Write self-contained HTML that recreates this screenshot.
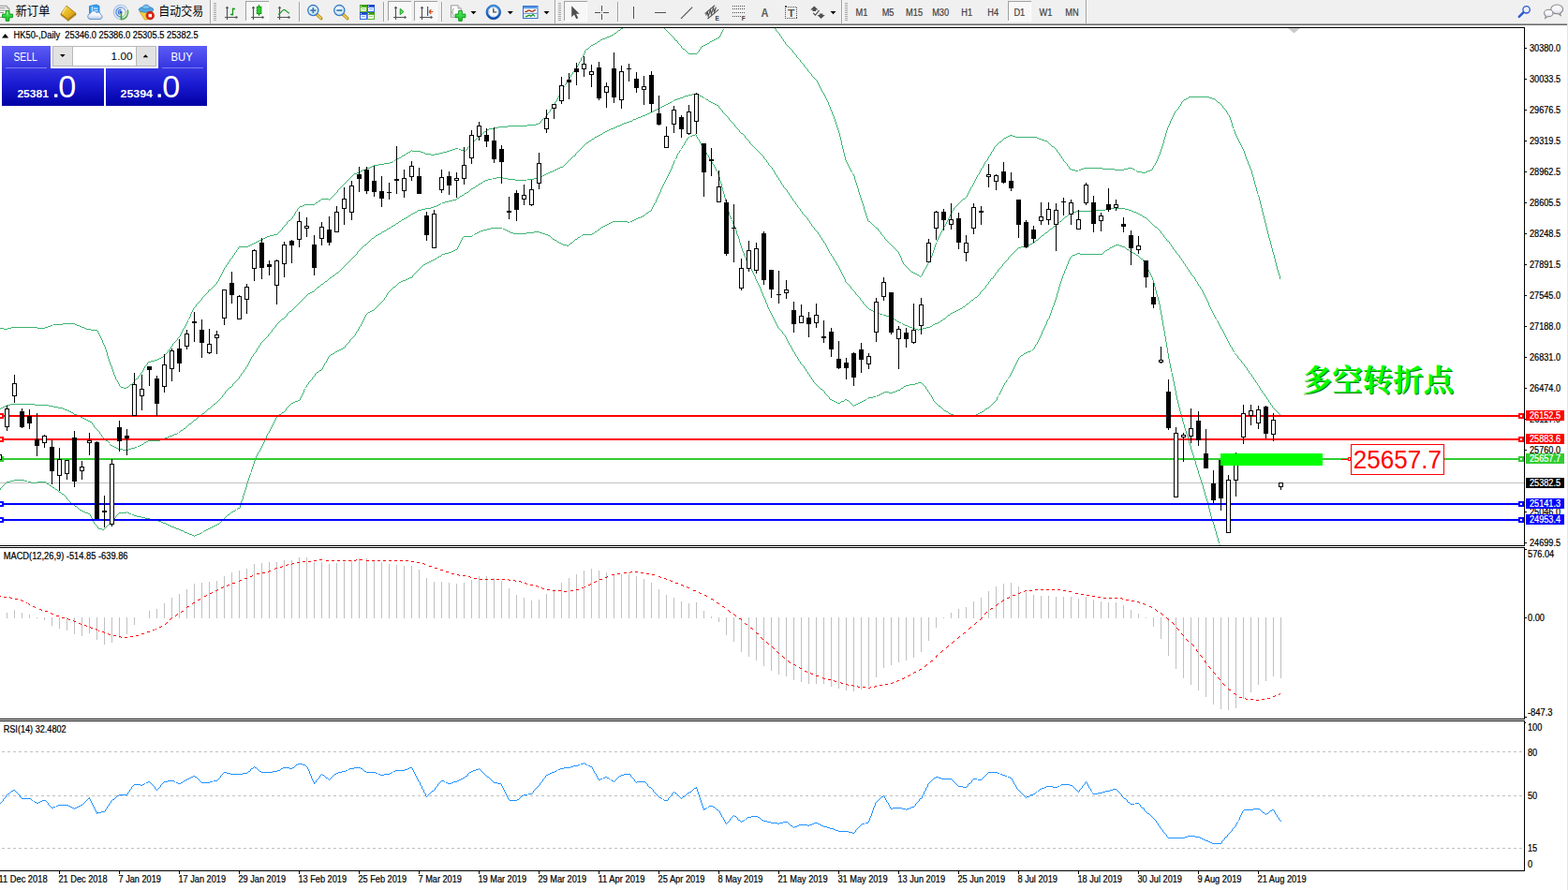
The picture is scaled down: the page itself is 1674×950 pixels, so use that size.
<!DOCTYPE html>
<html><head><meta charset="utf-8"><title>HK50 Daily</title>
<style>
html,body{margin:0;padding:0;background:#fff;overflow:hidden}
body{width:1674px;height:950px;position:relative;font-family:"Liberation Sans",sans-serif}
svg{display:block}
</style></head><body>
<svg width="1674" height="950" viewBox="0 0 1674 950" style="position:absolute;left:0;top:0" font-family="Liberation Sans, sans-serif">
<defs><clipPath id="cm"><rect x="0" y="30" width="1627" height="552"/></clipPath><clipPath id="c2"><rect x="0" y="585" width="1627" height="182"/></clipPath><clipPath id="c3"><rect x="0" y="770" width="1627" height="159"/></clipPath><linearGradient id="gb" x1="0" y1="0" x2="0" y2="1"><stop offset="0" stop-color="#5a5af5"/><stop offset="0.35" stop-color="#3232dc"/><stop offset="1" stop-color="#0000a8"/></linearGradient></defs>
<g shape-rendering="crispEdges">
<rect x="0" y="29" width="1628" height="1" fill="#000"/>
<rect x="1627" y="29" width="1" height="554" fill="#000"/>
<rect x="0" y="582" width="1628" height="1" fill="#000"/>
<rect x="0" y="584" width="1628" height="1" fill="#000"/>
<rect x="1627" y="584" width="1" height="184" fill="#000"/>
<rect x="0" y="767" width="1628" height="1" fill="#000"/>
<rect x="0" y="769" width="1628" height="1" fill="#000"/>
<rect x="1627" y="769" width="1" height="161" fill="#000"/>
<rect x="0" y="929" width="1628" height="1" fill="#000"/>
<rect x="1673" y="27" width="1" height="923" fill="#e6e6e6"/>
</g>
<rect x="0" y="515" width="1627" height="1" fill="#c0c0c0" shape-rendering="crispEdges"/>
<g shape-rendering="crispEdges" fill="#3CB371">
<path d="M4,351h4v1h-4zM92,351h5v1h-5zM288,251h4v1h-4zM1072,147h2v1h-2zM1107,147h2v1h-2zM575,131h2v1h-2zM975,291h2v1h-2zM404,175h6v1h-6zM505,150h2v1h-2zM1115,150h3v1h-3zM440,161h9v1h-9zM477,161h3v1h-3zM495,161h2v1h-2zM436,162h2v1h-2zM449,162h3v1h-3zM473,162h4v1h-4zM572,132h3v1h-3zM410,174h6v1h-6zM387,181h3v1h-3zM1144,181h4v1h-4zM1152,181h2v1h-2zM1190,181h10v1h-10zM1228,181h2v1h-2zM641,42h2v1h-2zM762,42h2v1h-2zM390,180h2v1h-2zM1142,180h2v1h-2zM1154,180h3v1h-3zM1177,180h13v1h-13zM1200,180h4v1h-4zM1209,180h2v1h-2zM337,216h2v1h-2zM542,134h21v1h-21zM292,250h4v1h-4zM721,43h2v1h-2zM760,43h2v1h-2zM12,349h28v1h-28zM48,349h3v1h-3zM87,349h3v1h-3zM434,163h2v1h-2zM452,163h2v1h-2zM469,163h4v1h-4zM54,347h2v1h-2zM82,347h3v1h-3zM510,146h2v1h-2zM1074,146h2v1h-2zM1084,146h23v1h-23zM656,35h2v1h-2zM129,413h3v1h-3zM135,413h2v1h-2zM580,126h2v1h-2zM431,165h2v1h-2zM460,165h4v1h-4zM1269,103h22v1h-22zM279,255h2v1h-2zM749,49h2v1h-2zM646,40h2v1h-2zM766,40h2v1h-2zM395,178h2v1h-2zM158,386h3v1h-3zM283,253h2v1h-2zM399,176h5v1h-5zM308,235h2v1h-2zM397,177h2v1h-2zM1291,104h3v1h-3zM426,168h2v1h-2zM927,236h2v1h-2zM340,214h2v1h-2zM0,350h4v1h-4zM8,350h4v1h-4zM40,350h8v1h-8zM90,350h2v1h-2zM323,219h2v1h-2zM1123,156h2v1h-2zM631,48h2v1h-2zM751,48h2v1h-2zM480,160h3v1h-3zM492,160h3v1h-3zM383,183h2v1h-2zM1214,183h5v1h-5zM1223,183h2v1h-2zM392,179h3v1h-3zM1157,179h20v1h-20zM1204,179h5v1h-5zM638,44h2v1h-2zM758,44h2v1h-2zM51,348h3v1h-3zM85,348h2v1h-2zM325,218h11v1h-11zM255,263h10v1h-10zM527,136h5v1h-5zM67,345h13v1h-13zM172,381h2v1h-2zM343,212h8v1h-8zM1028,212h2v1h-2zM522,137h5v1h-5zM635,46h2v1h-2zM755,46h2v1h-2zM483,159h3v1h-3zM490,159h2v1h-2zM429,166h2v1h-2zM977,292h2v1h-2zM563,133h9v1h-9zM454,164h6v1h-6zM464,164h5v1h-5zM735,57h9v1h-9zM267,261h2v1h-2zM643,41h3v1h-3zM764,41h2v1h-2zM517,140h2v1h-2zM416,173h3v1h-3zM132,414h3v1h-3zM633,47h2v1h-2zM753,47h2v1h-2zM277,256h2v1h-2zM1109,148h3v1h-3zM1264,106h2v1h-2zM1076,145h2v1h-2zM1081,145h3v1h-3zM139,410h2v1h-2zM1112,149h3v1h-3zM663,30h2v1h-2zM273,258h2v1h-2zM265,262h2v1h-2zM532,135h10v1h-10zM973,290h2v1h-2zM145,404h2v1h-2zM1067,151h2v1h-2zM1300,109h2v1h-2zM486,158h3v1h-3zM626,52h2v1h-2zM729,52h2v1h-2zM285,252h3v1h-3zM165,384h3v1h-3zM660,32h2v1h-2zM979,293h2v1h-2zM57,346h10v1h-10zM80,346h2v1h-2zM320,220h3v1h-3zM275,257h2v1h-2zM385,182h2v1h-2zM1148,182h3v1h-3zM1225,182h3v1h-3zM424,169h2v1h-2zM381,184h2v1h-2zM1219,184h4v1h-4zM653,37h2v1h-2zM422,170h2v1h-2zM269,260h2v1h-2zM170,382h2v1h-2zM168,383h2v1h-2zM378,185h3v1h-3zM520,138h2v1h-2zM97,352h7v1h-7zM223,309h2v1h-2zM271,259h2v1h-2zM281,254h2v1h-2zM1266,105h2v1h-2zM1294,105h3v1h-3zM161,385h4v1h-4zM1078,144h3v1h-3zM651,38h2v1h-2zM935,243h2v1h-2zM648,39h3v1h-3zM104,353h1v2h-1zM105,355h1v2h-1zM106,357h1v2h-1zM107,359h1v2h-1zM108,361h1v2h-1zM109,363h1v3h-1zM110,366h1v2h-1zM111,368h1v2h-1zM112,370h1v3h-1zM113,373h1v3h-1zM114,376h1v4h-1zM115,380h1v3h-1zM116,383h1v3h-1zM117,386h1v3h-1zM118,389h1v2h-1zM119,391h1v3h-1zM120,394h1v3h-1zM121,397h1v3h-1zM122,400h1v2h-1zM123,402h1v3h-1zM124,405h1v1h-1zM125,406h1v2h-1zM126,408h1v2h-1zM127,410h1v2h-1zM128,412h1v1h-1zM137,412h1v1h-1zM138,411h1v1h-1zM141,409h1v1h-1zM142,408h1v1h-1zM143,406h1v2h-1zM144,405h1v1h-1zM147,402h1v2h-1zM148,401h1v1h-1zM149,400h1v1h-1zM150,398h1v2h-1zM151,397h1v1h-1zM152,395h1v2h-1zM153,393h1v2h-1zM154,391h1v2h-1zM155,390h1v1h-1zM156,389h1v1h-1zM157,387h1v2h-1zM174,380h1v1h-1zM175,379h1v1h-1zM176,378h1v1h-1zM177,377h1v1h-1zM178,376h1v1h-1zM179,374h1v2h-1zM180,373h1v1h-1zM181,372h1v1h-1zM182,370h1v2h-1zM183,369h1v1h-1zM184,367h1v2h-1zM185,366h1v1h-1zM186,365h1v1h-1zM187,364h1v1h-1zM188,363h1v1h-1zM189,361h1v2h-1zM190,360h1v1h-1zM191,359h1v1h-1zM192,357h1v2h-1zM193,355h1v2h-1zM194,353h1v2h-1zM195,351h1v2h-1zM196,350h1v1h-1zM197,348h1v2h-1zM198,346h1v2h-1zM199,344h1v2h-1zM200,342h1v2h-1zM201,340h1v1h-1zM202,338h1v2h-1zM203,335h1v3h-1zM204,333h1v2h-1zM205,331h1v2h-1zM206,329h1v2h-1zM207,328h1v1h-1zM208,327h1v1h-1zM209,325h1v2h-1zM210,324h1v1h-1zM211,323h1v1h-1zM212,322h1v1h-1zM213,321h1v1h-1zM214,320h1v1h-1zM215,318h1v2h-1zM216,317h1v1h-1zM217,316h1v1h-1zM218,315h1v1h-1zM219,314h1v1h-1zM220,313h1v1h-1zM221,312h1v1h-1zM222,310h1v2h-1zM225,308h1v1h-1zM226,307h1v1h-1zM227,306h1v1h-1zM228,305h1v1h-1zM229,304h1v1h-1zM230,303h1v1h-1zM231,301h1v2h-1zM232,300h1v1h-1zM233,298h1v2h-1zM234,296h1v2h-1zM235,294h1v2h-1zM236,292h1v2h-1zM237,290h1v2h-1zM238,288h1v2h-1zM239,286h1v2h-1zM240,285h1v1h-1zM241,283h1v2h-1zM242,282h1v1h-1zM243,280h1v2h-1zM244,279h1v1h-1zM245,277h1v2h-1zM246,276h1v1h-1zM247,275h1v1h-1zM248,273h1v2h-1zM249,272h1v1h-1zM250,270h1v2h-1zM251,269h1v1h-1zM252,267h1v2h-1zM253,266h1v1h-1zM254,264h1v2h-1zM296,249h1v1h-1zM297,248h1v1h-1zM298,247h1v1h-1zM299,246h1v1h-1zM300,245h1v1h-1zM301,243h1v2h-1zM302,242h1v1h-1zM303,241h1v1h-1zM304,240h1v1h-1zM305,239h1v1h-1zM306,237h1v2h-1zM307,236h1v1h-1zM310,234h1v1h-1zM311,233h1v1h-1zM312,231h1v2h-1zM313,230h1v1h-1zM314,228h1v2h-1zM315,226h1v2h-1zM316,225h1v1h-1zM317,223h1v2h-1zM318,222h1v1h-1zM319,221h1v1h-1zM336,217h1v1h-1zM339,215h1v1h-1zM342,213h1v1h-1zM351,213h1v1h-1zM352,212h1v1h-1zM353,211h1v1h-1zM354,210h1v1h-1zM355,209h1v1h-1zM356,208h1v1h-1zM357,207h1v1h-1zM358,206h1v1h-1zM359,205h1v1h-1zM360,203h1v2h-1zM361,202h1v1h-1zM362,201h1v1h-1zM363,200h1v1h-1zM364,199h1v1h-1zM365,198h1v1h-1zM366,197h1v1h-1zM367,196h1v1h-1zM368,195h1v1h-1zM369,194h1v1h-1zM370,193h1v1h-1zM371,192h1v1h-1zM372,191h1v1h-1zM373,190h1v1h-1zM374,189h1v1h-1zM375,188h1v1h-1zM376,187h1v1h-1zM377,186h1v1h-1zM419,172h1v1h-1zM421,171h1v1h-1zM428,167h1v1h-1zM433,164h1v1h-1zM438,161h1v1h-1zM439,160h1v1h-1zM497,160h1v1h-1zM498,159h1v1h-1zM499,157h1v2h-1zM500,156h1v1h-1zM501,155h1v1h-1zM502,154h1v1h-1zM503,153h1v1h-1zM504,151h1v2h-1zM507,149h1v1h-1zM508,148h1v1h-1zM509,147h1v1h-1zM512,145h1v1h-1zM513,144h1v1h-1zM514,143h1v1h-1zM515,142h1v1h-1zM516,141h1v1h-1zM519,139h1v1h-1zM577,129h1v2h-1zM578,128h1v1h-1zM579,127h1v1h-1zM582,124h1v2h-1zM583,123h1v1h-1zM584,121h1v2h-1zM585,120h1v1h-1zM586,119h1v1h-1zM587,117h1v2h-1zM588,116h1v1h-1zM589,115h1v1h-1zM590,113h1v2h-1zM591,111h1v2h-1zM592,109h1v2h-1zM593,108h1v1h-1zM594,106h1v2h-1zM595,104h1v2h-1zM596,102h1v2h-1zM597,100h1v2h-1zM598,98h1v2h-1zM599,96h1v2h-1zM600,95h1v1h-1zM601,93h1v2h-1zM602,92h1v1h-1zM603,90h1v1h-1zM604,88h1v2h-1zM605,87h1v1h-1zM606,85h1v2h-1zM607,84h1v1h-1zM608,82h1v2h-1zM609,80h1v2h-1zM610,79h1v1h-1zM611,77h1v2h-1zM612,76h1v1h-1zM613,74h1v2h-1zM614,73h1v1h-1zM615,72h1v1h-1zM616,70h1v2h-1zM617,68h1v2h-1zM618,66h1v2h-1zM619,65h1v1h-1zM620,62h1v3h-1zM621,61h1v1h-1zM622,59h1v2h-1zM623,57h1v2h-1zM624,54h1v3h-1zM625,53h1v1h-1zM628,51h1v1h-1zM629,50h1v1h-1zM630,49h1v1h-1zM637,45h1v1h-1zM640,43h1v1h-1zM655,36h1v1h-1zM658,34h1v1h-1zM659,33h1v1h-1zM662,31h1v1h-1zM709,30h1v1h-1zM710,31h1v1h-1zM711,32h1v1h-1zM712,33h1v1h-1zM713,34h1v1h-1zM714,35h1v1h-1zM715,36h1v1h-1zM716,37h1v1h-1zM717,38h1v1h-1zM718,39h1v1h-1zM719,40h1v1h-1zM720,41h1v2h-1zM723,44h1v2h-1zM724,46h1v1h-1zM725,47h1v1h-1zM726,48h1v1h-1zM727,49h1v2h-1zM728,51h1v1h-1zM731,53h1v1h-1zM732,54h1v1h-1zM733,55h1v1h-1zM734,56h1v1h-1zM744,56h1v1h-1zM745,55h1v1h-1zM746,53h1v2h-1zM747,52h1v1h-1zM748,50h1v2h-1zM757,45h1v1h-1zM768,38h1v2h-1zM769,36h1v2h-1zM770,34h1v2h-1zM771,32h1v2h-1zM772,31h1v1h-1zM827,30h1v1h-1zM828,31h1v2h-1zM829,33h1v1h-1zM830,34h1v1h-1zM831,35h1v1h-1zM832,36h1v2h-1zM833,38h1v1h-1zM834,39h1v2h-1zM835,41h1v1h-1zM836,42h1v2h-1zM837,44h1v1h-1zM838,45h1v2h-1zM839,47h1v1h-1zM840,48h1v1h-1zM841,49h1v1h-1zM842,50h1v1h-1zM843,51h1v1h-1zM844,52h1v1h-1zM845,53h1v1h-1zM846,54h1v2h-1zM847,56h1v1h-1zM848,57h1v1h-1zM849,58h1v1h-1zM850,59h1v2h-1zM851,61h1v1h-1zM852,62h1v1h-1zM853,63h1v1h-1zM854,64h1v2h-1zM855,66h1v1h-1zM856,67h1v1h-1zM857,68h1v1h-1zM858,69h1v2h-1zM859,71h1v1h-1zM860,72h1v1h-1zM861,73h1v1h-1zM862,74h1v2h-1zM863,76h1v1h-1zM864,77h1v1h-1zM865,78h1v1h-1zM866,79h1v2h-1zM867,81h1v1h-1zM868,82h1v1h-1zM869,83h1v1h-1zM870,84h1v1h-1zM871,85h1v1h-1zM872,86h1v2h-1zM873,88h1v2h-1zM874,90h1v2h-1zM875,92h1v2h-1zM876,94h1v2h-1zM877,96h1v2h-1zM878,98h1v1h-1zM879,99h1v2h-1zM880,101h1v2h-1zM881,103h1v2h-1zM882,105h1v2h-1zM883,107h1v2h-1zM884,109h1v3h-1zM885,112h1v2h-1zM886,114h1v3h-1zM887,117h1v2h-1zM888,119h1v3h-1zM889,122h1v2h-1zM890,124h1v3h-1zM891,127h1v3h-1zM892,130h1v3h-1zM893,133h1v3h-1zM894,136h1v3h-1zM895,139h1v3h-1zM896,142h1v4h-1zM897,146h1v4h-1zM898,150h1v5h-1zM899,155h1v4h-1zM900,159h1v4h-1zM901,163h1v4h-1zM902,167h1v4h-1zM903,171h1v2h-1zM904,173h1v2h-1zM905,175h1v2h-1zM906,177h1v2h-1zM907,179h1v2h-1zM908,181h1v2h-1zM909,183h1v1h-1zM910,185h1v1h-1zM911,186h1v2h-1zM912,188h1v4h-1zM913,192h1v3h-1zM914,195h1v3h-1zM915,198h1v3h-1zM916,201h1v4h-1zM917,205h1v3h-1zM918,208h1v3h-1zM919,211h1v3h-1zM920,214h1v3h-1zM921,217h1v3h-1zM922,220h1v4h-1zM923,224h1v3h-1zM924,227h1v3h-1zM925,230h1v3h-1zM926,233h1v3h-1zM929,237h1v1h-1zM930,238h1v1h-1zM931,239h1v1h-1zM932,240h1v1h-1zM933,241h1v1h-1zM934,242h1v1h-1zM937,244h1v2h-1zM938,246h1v1h-1zM939,247h1v1h-1zM940,248h1v2h-1zM941,250h1v1h-1zM942,251h1v1h-1zM943,252h1v1h-1zM944,253h1v2h-1zM945,255h1v1h-1zM946,256h1v1h-1zM947,257h1v1h-1zM948,258h1v1h-1zM949,259h1v1h-1zM950,260h1v1h-1zM951,261h1v1h-1zM952,262h1v1h-1zM953,263h1v1h-1zM954,264h1v1h-1zM955,265h1v1h-1zM956,266h1v1h-1zM957,267h1v1h-1zM958,268h1v1h-1zM959,269h1v2h-1zM960,271h1v2h-1zM961,273h1v2h-1zM962,275h1v3h-1zM963,278h1v2h-1zM964,280h1v2h-1zM965,282h1v1h-1zM966,283h1v1h-1zM967,284h1v1h-1zM968,285h1v1h-1zM969,286h1v1h-1zM970,287h1v1h-1zM971,288h1v1h-1zM972,289h1v1h-1zM981,294h1v1h-1zM982,295h1v1h-1zM983,294h1v1h-1zM984,292h1v2h-1zM985,290h1v2h-1zM986,288h1v2h-1zM987,287h1v1h-1zM988,285h1v2h-1zM989,283h1v2h-1zM990,281h1v2h-1zM991,279h1v2h-1zM992,277h1v2h-1zM993,275h1v2h-1zM994,273h1v2h-1zM995,270h1v3h-1zM996,267h1v3h-1zM997,264h1v3h-1zM998,261h1v3h-1zM999,259h1v2h-1zM1000,256h1v2h-1zM1001,254h1v2h-1zM1002,252h1v2h-1zM1003,250h1v2h-1zM1004,248h1v2h-1zM1005,246h1v2h-1zM1006,244h1v2h-1zM1007,243h1v1h-1zM1008,241h1v1h-1zM1009,239h1v2h-1zM1010,237h1v2h-1zM1011,235h1v2h-1zM1012,233h1v2h-1zM1013,231h1v2h-1zM1014,229h1v2h-1zM1015,227h1v2h-1zM1016,225h1v2h-1zM1017,224h1v1h-1zM1018,222h1v2h-1zM1019,221h1v1h-1zM1020,220h1v1h-1zM1021,219h1v1h-1zM1022,218h1v1h-1zM1023,217h1v1h-1zM1024,216h1v1h-1zM1025,215h1v1h-1zM1026,214h1v1h-1zM1027,213h1v1h-1zM1030,211h1v1h-1zM1031,210h1v1h-1zM1032,208h1v2h-1zM1033,206h1v2h-1zM1034,204h1v2h-1zM1035,202h1v2h-1zM1036,200h1v2h-1zM1037,199h1v1h-1zM1038,197h1v2h-1zM1039,195h1v2h-1zM1040,193h1v2h-1zM1041,191h1v2h-1zM1042,189h1v2h-1zM1043,187h1v2h-1zM1044,186h1v1h-1zM1045,184h1v2h-1zM1046,182h1v2h-1zM1047,180h1v2h-1zM1048,179h1v1h-1zM1049,177h1v2h-1zM1050,175h1v2h-1zM1051,173h1v2h-1zM1052,172h1v1h-1zM1053,171h1v1h-1zM1054,169h1v2h-1zM1055,167h1v2h-1zM1056,166h1v1h-1zM1057,164h1v2h-1zM1058,162h1v2h-1zM1059,161h1v1h-1zM1060,159h1v2h-1zM1061,157h1v2h-1zM1062,156h1v1h-1zM1063,155h1v1h-1zM1064,154h1v1h-1zM1065,153h1v1h-1zM1066,152h1v1h-1zM1069,150h1v1h-1zM1070,149h1v1h-1zM1071,148h1v1h-1zM1118,151h1v1h-1zM1119,152h1v1h-1zM1120,153h1v1h-1zM1121,154h1v1h-1zM1122,155h1v1h-1zM1125,157h1v1h-1zM1126,158h1v1h-1zM1127,159h1v1h-1zM1128,160h1v2h-1zM1129,162h1v1h-1zM1130,163h1v1h-1zM1131,164h1v2h-1zM1132,166h1v1h-1zM1133,167h1v2h-1zM1134,169h1v1h-1zM1135,170h1v2h-1zM1136,172h1v1h-1zM1137,173h1v1h-1zM1138,174h1v1h-1zM1139,175h1v2h-1zM1140,177h1v1h-1zM1141,178h1v2h-1zM1211,181h1v1h-1zM1213,182h1v1h-1zM1230,179h1v2h-1zM1231,177h1v2h-1zM1232,176h1v1h-1zM1233,174h1v2h-1zM1234,172h1v2h-1zM1235,170h1v2h-1zM1236,167h1v3h-1zM1237,165h1v2h-1zM1238,162h1v3h-1zM1239,159h1v3h-1zM1240,156h1v3h-1zM1241,153h1v3h-1zM1242,149h1v4h-1zM1243,146h1v3h-1zM1244,142h1v4h-1zM1245,139h1v3h-1zM1246,136h1v3h-1zM1247,134h1v2h-1zM1248,132h1v2h-1zM1249,129h1v3h-1zM1250,127h1v2h-1zM1251,125h1v2h-1zM1252,123h1v2h-1zM1253,121h1v2h-1zM1254,119h1v2h-1zM1255,118h1v1h-1zM1256,117h1v1h-1zM1257,116h1v1h-1zM1258,114h1v2h-1zM1259,113h1v1h-1zM1260,111h1v2h-1zM1261,109h1v2h-1zM1262,108h1v1h-1zM1263,107h1v1h-1zM1268,104h1v1h-1zM1297,106h1v1h-1zM1298,107h1v1h-1zM1299,108h1v1h-1zM1302,110h1v1h-1zM1303,111h1v1h-1zM1304,112h1v1h-1zM1305,113h1v2h-1zM1306,115h1v1h-1zM1307,116h1v1h-1zM1308,117h1v1h-1zM1309,118h1v2h-1zM1310,120h1v2h-1zM1311,122h1v1h-1zM1312,123h1v2h-1zM1313,125h1v3h-1zM1314,128h1v3h-1zM1315,131h1v4h-1zM1316,135h1v2h-1zM1317,138h1v2h-1zM1318,140h1v3h-1zM1319,143h1v2h-1zM1320,145h1v2h-1zM1321,147h1v2h-1zM1322,149h1v2h-1zM1323,151h1v2h-1zM1324,153h1v2h-1zM1325,155h1v2h-1zM1326,157h1v2h-1zM1327,159h1v2h-1zM1328,161h1v3h-1zM1329,164h1v3h-1zM1330,167h1v3h-1zM1331,170h1v2h-1zM1332,172h1v3h-1zM1333,175h1v2h-1zM1334,177h1v3h-1zM1335,180h1v2h-1zM1336,182h1v4h-1zM1337,186h1v3h-1zM1338,189h1v4h-1zM1339,193h1v4h-1zM1340,197h1v3h-1zM1341,200h1v4h-1zM1342,204h1v3h-1zM1343,208h1v2h-1zM1344,210h1v4h-1zM1345,214h1v4h-1zM1346,218h1v4h-1zM1347,222h1v4h-1zM1348,226h1v4h-1zM1349,230h1v4h-1zM1350,234h1v4h-1zM1351,238h1v4h-1zM1352,242h1v4h-1zM1353,246h1v4h-1zM1354,250h1v4h-1zM1355,254h1v3h-1zM1356,257h1v4h-1zM1357,261h1v4h-1zM1358,265h1v4h-1zM1359,269h1v3h-1zM1360,272h1v4h-1zM1361,276h1v4h-1zM1362,280h1v4h-1zM1363,284h1v4h-1zM1364,288h1v3h-1zM1365,291h1v3h-1zM1366,294h1v4h-1z"/>
<path d="M418,241h2v1h-2zM1125,241h2v1h-2zM955,341h2v1h-2zM154,472h2v1h-2zM946,337h3v1h-3zM468,218h2v1h-2zM503,201h2v1h-2zM1137,231h2v1h-2zM1220,231h2v1h-2zM441,227h2v1h-2zM1143,227h3v1h-3zM1213,227h2v1h-2zM960,344h2v1h-2zM1001,344h2v1h-2zM179,466h2v1h-2zM460,221h3v1h-3zM1190,221h2v1h-2zM79,442h3v1h-3zM446,224h4v1h-4zM1169,224h11v1h-11zM1205,224h3v1h-3zM420,240h2v1h-2zM403,250h2v1h-2zM389,261h2v1h-2zM1097,261h3v1h-3zM521,191h4v1h-4zM542,191h8v1h-8zM563,191h7v1h-7zM679,126h2v1h-2zM648,139h2v1h-2zM11,431h26v1h-26zM228,431h2v1h-2zM156,471h2v1h-2zM526,190h4v1h-4zM537,190h5v1h-5zM570,190h3v1h-3zM598,178h3v1h-3zM410,246h2v1h-2zM245,413h2v1h-2zM943,336h3v1h-3zM1012,336h2v1h-2zM699,117h2v1h-2zM401,251h2v1h-2zM1112,251h2v1h-2zM408,247h2v1h-2zM594,180h2v1h-2zM94,449h2v1h-2zM491,209h2v1h-2zM429,234h2v1h-2zM1041,317h2v1h-2zM1149,225h20v1h-20zM1208,225h2v1h-2zM359,291h2v1h-2zM695,119h2v1h-2zM171,469h3v1h-3zM443,226h2v1h-2zM1146,226h3v1h-3zM1210,226h3v1h-3zM413,244h2v1h-2zM1121,244h2v1h-2zM82,443h2v1h-2zM213,443h2v1h-2zM1233,242h2v1h-2zM669,130h3v1h-3zM516,193h2v1h-2zM347,300h2v1h-2zM450,223h4v1h-4zM1180,223h5v1h-5zM1201,223h4v1h-4zM454,222h6v1h-6zM1185,222h5v1h-5zM1192,222h9v1h-9zM423,238h2v1h-2zM681,125h3v1h-3zM513,195h2v1h-2zM934,333h2v1h-2zM1017,333h2v1h-2zM966,347h3v1h-3zM309,332h2v1h-2zM932,332h2v1h-2zM1019,332h2v1h-2zM122,477h2v1h-2zM144,477h2v1h-2zM585,184h2v1h-2zM69,437h3v1h-3zM131,480h6v1h-6zM977,351h3v1h-3zM981,351h4v1h-4zM196,457h2v1h-2zM1087,264h3v1h-3zM76,440h2v1h-2zM67,436h2v1h-2zM222,436h2v1h-2zM951,339h2v1h-2zM1090,263h3v1h-3zM301,340h2v1h-2zM953,340h2v1h-2zM1007,340h2v1h-2zM436,230h2v1h-2zM518,192h3v1h-3zM550,192h12v1h-12zM930,331h2v1h-2zM1021,331h2v1h-2zM1037,320h2v1h-2zM657,135h2v1h-2zM479,214h4v1h-4zM707,113h2v1h-2zM530,189h7v1h-7zM573,189h3v1h-3zM113,470h2v1h-2zM158,470h13v1h-13zM726,104h3v1h-3zM1058,297h2v1h-2zM181,465h3v1h-3zM7,432h4v1h-4zM37,432h15v1h-15zM176,467h3v1h-3zM644,141h2v1h-2zM355,294h2v1h-2zM329,313h2v1h-2zM352,296h2v1h-2zM126,479h5v1h-5zM137,479h3v1h-3zM1028,327h2v1h-2zM72,438h2v1h-2zM488,211h2v1h-2zM629,150h2v1h-2zM426,236h2v1h-2zM1131,236h2v1h-2zM971,349h3v1h-3zM989,349h4v1h-4zM632,148h2v1h-2zM505,200h2v1h-2zM587,183h3v1h-3zM666,131h3v1h-3zM415,243h2v1h-2zM86,445h2v1h-2zM958,343h2v1h-2zM339,306h2v1h-2zM3,434h2v1h-2zM57,434h5v1h-5zM405,249h2v1h-2zM1093,262h4v1h-4zM186,463h3v1h-3zM639,144h2v1h-2zM343,303h2v1h-2zM463,220h3v1h-3zM216,441h2v1h-2zM689,122h2v1h-2zM612,166h2v1h-2zM1,435h2v1h-2zM62,435h5v1h-5zM739,100h4v1h-4zM744,100h2v1h-2zM596,179h2v1h-2zM936,334h3v1h-3zM1015,334h2v1h-2zM466,219h2v1h-2zM723,105h3v1h-3zM1004,342h2v1h-2zM664,132h2v1h-2zM1102,259h2v1h-2zM662,133h2v1h-2zM508,198h2v1h-2zM333,311h2v1h-2zM646,140h2v1h-2zM939,335h3v1h-3zM472,216h3v1h-3zM715,109h2v1h-2zM759,109h2v1h-2zM1116,248h2v1h-2zM583,185h2v1h-2zM684,124h2v1h-2zM475,215h4v1h-4zM174,468h2v1h-2zM928,330h2v1h-2zM1023,330h2v1h-2zM88,446h2v1h-2zM686,123h3v1h-3zM705,114h2v1h-2zM735,101h4v1h-4zM124,478h2v1h-2zM140,478h4v1h-4zM1246,257h2v1h-2zM496,206h2v1h-2zM431,233h2v1h-2zM650,138h2v1h-2zM676,127h3v1h-3zM974,350h3v1h-3zM985,350h4v1h-4zM672,129h3v1h-3zM697,118h2v1h-2zM592,181h2v1h-2zM493,208h2v1h-2zM693,120h2v1h-2zM151,474h2v1h-2zM626,152h2v1h-2zM439,228h2v1h-2zM1141,228h2v1h-2zM1215,228h2v1h-2zM84,444h2v1h-2zM711,111h2v1h-2zM763,111h2v1h-2zM5,433h2v1h-2zM52,433h5v1h-5zM635,146h2v1h-2zM202,452h2v1h-2zM74,439h2v1h-2zM969,348h2v1h-2zM993,348h2v1h-2zM1032,324h2v1h-2zM579,187h2v1h-2zM637,145h2v1h-2zM964,346h2v1h-2zM996,346h2v1h-2zM655,136h2v1h-2zM581,186h2v1h-2zM498,205h2v1h-2zM1106,256h2v1h-2zM1217,229h2v1h-2zM713,110h2v1h-2zM761,110h2v1h-2zM659,134h3v1h-3zM949,338h2v1h-2zM331,312h2v1h-2zM120,476h2v1h-2zM147,476h2v1h-2zM1025,329h2v1h-2zM729,103h2v1h-2zM749,103h2v1h-2zM998,345h3v1h-3zM184,464h2v1h-2zM92,448h2v1h-2zM207,448h2v1h-2zM652,137h3v1h-3zM703,115h2v1h-2zM433,232h2v1h-2zM1222,232h2v1h-2zM720,106h3v1h-3zM754,106h2v1h-2zM641,143h2v1h-2zM118,475h2v1h-2zM149,475h2v1h-2zM590,182h2v1h-2zM397,254h2v1h-2zM709,112h2v1h-2zM765,112h2v1h-2zM701,116h2v1h-2zM483,213h4v1h-4zM731,102h4v1h-4zM747,102h2v1h-2zM511,196h2v1h-2zM757,108h2v1h-2zM791,142h2v1h-2zM1100,260h2v1h-2zM193,459h2v1h-2zM576,188h3v1h-3zM90,447h2v1h-2zM96,450h2v1h-2zM691,121h2v1h-2zM0,436h1v1h-1zM78,441h1v1h-1zM98,451h1v2h-1zM99,453h1v1h-1zM100,454h1v2h-1zM101,456h1v1h-1zM102,457h1v1h-1zM103,458h1v1h-1zM104,459h1v1h-1zM105,460h1v1h-1zM106,461h1v2h-1zM107,463h1v1h-1zM108,464h1v2h-1zM109,466h1v1h-1zM110,467h1v1h-1zM111,468h1v1h-1zM112,469h1v1h-1zM115,471h1v1h-1zM116,472h1v1h-1zM117,474h1v1h-1zM153,473h1v1h-1zM189,462h1v1h-1zM191,461h1v1h-1zM192,460h1v1h-1zM195,458h1v1h-1zM198,456h1v1h-1zM199,455h1v1h-1zM200,454h1v1h-1zM201,453h1v1h-1zM204,451h1v1h-1zM205,450h1v1h-1zM206,449h1v1h-1zM209,447h1v1h-1zM210,446h1v1h-1zM211,445h1v1h-1zM212,444h1v1h-1zM215,442h1v1h-1zM218,440h1v1h-1zM219,439h1v1h-1zM220,438h1v1h-1zM221,437h1v1h-1zM224,435h1v1h-1zM225,434h1v1h-1zM226,433h1v1h-1zM227,432h1v1h-1zM230,430h1v1h-1zM231,429h1v1h-1zM232,428h1v1h-1zM233,427h1v1h-1zM234,426h1v1h-1zM235,425h1v1h-1zM236,424h1v1h-1zM237,422h1v2h-1zM238,421h1v1h-1zM239,420h1v1h-1zM240,418h1v2h-1zM241,417h1v1h-1zM242,416h1v1h-1zM243,415h1v1h-1zM244,414h1v1h-1zM247,412h1v1h-1zM248,410h1v2h-1zM249,409h1v1h-1zM250,408h1v1h-1zM251,407h1v1h-1zM252,406h1v1h-1zM253,405h1v1h-1zM254,404h1v1h-1zM255,402h1v2h-1zM256,401h1v1h-1zM257,399h1v2h-1zM258,398h1v1h-1zM259,397h1v1h-1zM260,395h1v2h-1zM261,394h1v1h-1zM262,392h1v2h-1zM263,391h1v1h-1zM264,389h1v2h-1zM265,387h1v2h-1zM266,385h1v2h-1zM267,383h1v2h-1zM268,381h1v2h-1zM269,380h1v1h-1zM270,378h1v2h-1zM271,377h1v1h-1zM272,376h1v1h-1zM273,374h1v2h-1zM274,372h1v2h-1zM275,371h1v1h-1zM276,369h1v2h-1zM277,368h1v1h-1zM278,366h1v2h-1zM279,365h1v1h-1zM280,364h1v1h-1zM281,363h1v1h-1zM282,362h1v1h-1zM283,361h1v1h-1zM284,360h1v1h-1zM285,359h1v1h-1zM286,357h1v2h-1zM287,356h1v1h-1zM288,355h1v1h-1zM289,354h1v1h-1zM290,352h1v2h-1zM291,351h1v1h-1zM292,350h1v1h-1zM293,349h1v1h-1zM294,347h1v2h-1zM295,346h1v1h-1zM296,345h1v1h-1zM297,344h1v1h-1zM298,343h1v1h-1zM299,342h1v1h-1zM300,341h1v1h-1zM303,339h1v1h-1zM304,338h1v1h-1zM305,337h1v1h-1zM306,335h1v2h-1zM307,334h1v1h-1zM308,333h1v1h-1zM311,331h1v1h-1zM312,330h1v1h-1zM313,329h1v1h-1zM314,328h1v1h-1zM315,327h1v1h-1zM316,326h1v1h-1zM317,325h1v1h-1zM318,324h1v1h-1zM319,323h1v1h-1zM320,322h1v1h-1zM321,321h1v1h-1zM322,320h1v1h-1zM323,319h1v1h-1zM324,318h1v1h-1zM325,317h1v1h-1zM326,316h1v1h-1zM327,315h1v1h-1zM328,314h1v1h-1zM335,310h1v1h-1zM336,309h1v1h-1zM337,308h1v1h-1zM338,307h1v1h-1zM341,305h1v1h-1zM342,304h1v1h-1zM345,302h1v1h-1zM346,301h1v1h-1zM349,299h1v1h-1zM350,298h1v1h-1zM351,297h1v1h-1zM354,295h1v1h-1zM357,293h1v1h-1zM358,292h1v1h-1zM361,290h1v1h-1zM362,289h1v1h-1zM363,288h1v1h-1zM364,287h1v1h-1zM365,286h1v1h-1zM366,285h1v1h-1zM367,284h1v1h-1zM368,283h1v1h-1zM369,282h1v1h-1zM370,281h1v1h-1zM371,280h1v1h-1zM372,279h1v1h-1zM373,278h1v1h-1zM374,277h1v1h-1zM375,276h1v1h-1zM376,275h1v1h-1zM377,274h1v1h-1zM378,273h1v1h-1zM379,272h1v1h-1zM380,271h1v1h-1zM381,269h1v2h-1zM382,268h1v1h-1zM383,267h1v1h-1zM384,266h1v1h-1zM385,265h1v1h-1zM386,264h1v1h-1zM387,263h1v1h-1zM388,262h1v1h-1zM391,260h1v1h-1zM392,259h1v1h-1zM393,258h1v1h-1zM394,257h1v1h-1zM395,256h1v1h-1zM396,255h1v1h-1zM399,253h1v1h-1zM400,252h1v1h-1zM407,248h1v1h-1zM412,245h1v1h-1zM417,242h1v1h-1zM422,239h1v1h-1zM425,237h1v1h-1zM428,235h1v1h-1zM435,231h1v1h-1zM438,229h1v1h-1zM445,225h1v1h-1zM470,217h1v1h-1zM487,212h1v1h-1zM490,210h1v1h-1zM495,207h1v1h-1zM500,204h1v1h-1zM501,203h1v1h-1zM502,202h1v1h-1zM507,199h1v1h-1zM510,197h1v1h-1zM515,194h1v1h-1zM601,177h1v1h-1zM602,176h1v1h-1zM603,175h1v1h-1zM604,174h1v1h-1zM605,173h1v1h-1zM606,172h1v1h-1zM607,171h1v1h-1zM608,170h1v1h-1zM609,169h1v1h-1zM610,168h1v1h-1zM611,167h1v1h-1zM614,164h1v2h-1zM615,163h1v1h-1zM616,162h1v1h-1zM617,161h1v1h-1zM618,160h1v1h-1zM619,159h1v1h-1zM620,158h1v1h-1zM621,157h1v1h-1zM622,156h1v1h-1zM623,155h1v1h-1zM624,154h1v1h-1zM625,153h1v1h-1zM628,151h1v1h-1zM631,149h1v1h-1zM634,147h1v1h-1zM643,142h1v1h-1zM675,128h1v1h-1zM717,108h1v1h-1zM719,107h1v1h-1zM743,99h1v1h-1zM746,101h1v1h-1zM751,104h1v1h-1zM753,105h1v1h-1zM756,107h1v1h-1zM767,113h1v2h-1zM768,115h1v1h-1zM769,116h1v1h-1zM770,117h1v1h-1zM771,118h1v2h-1zM772,120h1v1h-1zM773,121h1v1h-1zM774,122h1v1h-1zM775,123h1v1h-1zM776,124h1v1h-1zM777,125h1v1h-1zM778,126h1v2h-1zM779,128h1v1h-1zM780,129h1v1h-1zM781,130h1v1h-1zM782,131h1v1h-1zM783,132h1v1h-1zM784,133h1v2h-1zM785,135h1v1h-1zM786,136h1v1h-1zM787,137h1v1h-1zM788,138h1v1h-1zM789,139h1v2h-1zM790,141h1v1h-1zM793,143h1v1h-1zM794,144h1v1h-1zM795,145h1v2h-1zM796,147h1v1h-1zM797,148h1v1h-1zM798,149h1v1h-1zM799,150h1v1h-1zM800,151h1v2h-1zM801,153h1v1h-1zM802,154h1v1h-1zM803,155h1v1h-1zM804,156h1v1h-1zM805,157h1v1h-1zM806,158h1v1h-1zM807,159h1v1h-1zM808,160h1v1h-1zM809,161h1v1h-1zM810,162h1v1h-1zM811,163h1v1h-1zM812,164h1v1h-1zM813,165h1v1h-1zM814,166h1v1h-1zM815,167h1v2h-1zM816,169h1v1h-1zM817,170h1v1h-1zM818,171h1v2h-1zM819,173h1v1h-1zM820,174h1v2h-1zM821,176h1v1h-1zM822,177h1v1h-1zM823,178h1v1h-1zM824,179h1v2h-1zM825,181h1v1h-1zM826,182h1v2h-1zM827,184h1v2h-1zM828,186h1v1h-1zM829,187h1v2h-1zM830,189h1v1h-1zM831,190h1v2h-1zM832,192h1v1h-1zM833,193h1v2h-1zM834,195h1v2h-1zM835,197h1v1h-1zM836,198h1v2h-1zM837,200h1v1h-1zM838,201h1v1h-1zM839,202h1v1h-1zM840,203h1v2h-1zM841,205h1v1h-1zM842,206h1v2h-1zM843,208h1v1h-1zM844,209h1v2h-1zM845,211h1v1h-1zM846,212h1v2h-1zM847,214h1v1h-1zM848,215h1v1h-1zM849,216h1v2h-1zM850,218h1v1h-1zM851,219h1v2h-1zM852,221h1v1h-1zM853,222h1v1h-1zM854,223h1v2h-1zM855,225h1v1h-1zM856,226h1v2h-1zM857,228h1v1h-1zM858,229h1v1h-1zM859,230h1v1h-1zM860,231h1v1h-1zM861,232h1v1h-1zM862,233h1v2h-1zM863,235h1v1h-1zM864,236h1v2h-1zM865,238h1v1h-1zM866,239h1v2h-1zM867,241h1v1h-1zM868,242h1v1h-1zM869,243h1v2h-1zM870,245h1v1h-1zM871,246h1v1h-1zM872,247h1v1h-1zM873,248h1v2h-1zM874,250h1v1h-1zM875,251h1v2h-1zM876,253h1v1h-1zM877,254h1v2h-1zM878,256h1v1h-1zM879,257h1v2h-1zM880,259h1v1h-1zM881,260h1v2h-1zM882,262h1v2h-1zM883,264h1v2h-1zM884,266h1v2h-1zM885,268h1v2h-1zM886,270h1v1h-1zM887,271h1v2h-1zM888,273h1v1h-1zM889,274h1v2h-1zM890,276h1v2h-1zM891,278h1v1h-1zM892,279h1v2h-1zM893,281h1v2h-1zM894,283h1v1h-1zM895,284h1v2h-1zM896,286h1v2h-1zM897,288h1v2h-1zM898,290h1v2h-1zM899,292h1v2h-1zM900,294h1v2h-1zM901,296h1v2h-1zM902,298h1v3h-1zM903,301h1v1h-1zM904,302h1v1h-1zM905,303h1v1h-1zM906,304h1v1h-1zM907,305h1v1h-1zM908,306h1v2h-1zM909,308h1v1h-1zM910,309h1v1h-1zM911,310h1v1h-1zM912,311h1v1h-1zM913,312h1v2h-1zM914,314h1v1h-1zM915,315h1v1h-1zM916,316h1v1h-1zM917,317h1v1h-1zM918,318h1v2h-1zM919,320h1v1h-1zM920,321h1v1h-1zM921,322h1v2h-1zM922,324h1v1h-1zM923,325h1v1h-1zM924,326h1v1h-1zM925,327h1v1h-1zM926,328h1v1h-1zM927,329h1v1h-1zM957,342h1v1h-1zM963,345h1v1h-1zM980,352h1v1h-1zM995,347h1v1h-1zM1003,343h1v1h-1zM1006,341h1v1h-1zM1009,339h1v1h-1zM1010,338h1v1h-1zM1011,337h1v1h-1zM1014,335h1v1h-1zM1027,328h1v1h-1zM1030,326h1v1h-1zM1031,325h1v1h-1zM1034,323h1v1h-1zM1035,322h1v1h-1zM1036,321h1v1h-1zM1039,319h1v1h-1zM1040,318h1v1h-1zM1043,316h1v1h-1zM1044,315h1v1h-1zM1045,314h1v1h-1zM1046,312h1v2h-1zM1047,311h1v1h-1zM1048,310h1v1h-1zM1049,309h1v1h-1zM1050,308h1v1h-1zM1051,307h1v1h-1zM1052,305h1v2h-1zM1053,304h1v1h-1zM1054,303h1v1h-1zM1055,301h1v2h-1zM1056,300h1v1h-1zM1057,298h1v2h-1zM1060,295h1v2h-1zM1061,294h1v1h-1zM1062,292h1v2h-1zM1063,291h1v1h-1zM1064,290h1v1h-1zM1065,288h1v2h-1zM1066,287h1v1h-1zM1067,286h1v1h-1zM1068,285h1v1h-1zM1069,284h1v1h-1zM1070,282h1v2h-1zM1071,281h1v1h-1zM1072,280h1v1h-1zM1073,279h1v1h-1zM1074,278h1v1h-1zM1075,277h1v1h-1zM1076,275h1v2h-1zM1077,274h1v1h-1zM1078,273h1v1h-1zM1079,272h1v1h-1zM1080,271h1v1h-1zM1081,270h1v1h-1zM1082,269h1v1h-1zM1083,268h1v1h-1zM1084,267h1v1h-1zM1085,266h1v1h-1zM1086,265h1v1h-1zM1104,258h1v1h-1zM1105,257h1v1h-1zM1108,255h1v1h-1zM1109,254h1v1h-1zM1110,253h1v1h-1zM1111,252h1v1h-1zM1114,250h1v1h-1zM1115,249h1v1h-1zM1118,247h1v1h-1zM1119,246h1v1h-1zM1120,245h1v1h-1zM1123,243h1v1h-1zM1124,242h1v1h-1zM1127,240h1v1h-1zM1128,239h1v1h-1zM1129,238h1v1h-1zM1130,237h1v1h-1zM1133,235h1v1h-1zM1134,234h1v1h-1zM1135,233h1v1h-1zM1136,232h1v1h-1zM1139,230h1v1h-1zM1140,229h1v1h-1zM1219,230h1v1h-1zM1224,233h1v1h-1zM1225,234h1v1h-1zM1226,235h1v1h-1zM1227,236h1v1h-1zM1228,237h1v1h-1zM1229,238h1v1h-1zM1230,239h1v1h-1zM1231,240h1v1h-1zM1232,241h1v1h-1zM1235,243h1v1h-1zM1236,244h1v1h-1zM1237,245h1v1h-1zM1238,246h1v1h-1zM1239,247h1v2h-1zM1240,249h1v1h-1zM1241,250h1v1h-1zM1242,251h1v2h-1zM1243,253h1v1h-1zM1244,254h1v1h-1zM1245,255h1v2h-1zM1248,258h1v2h-1zM1249,260h1v1h-1zM1250,261h1v2h-1zM1251,263h1v1h-1zM1252,264h1v2h-1zM1253,266h1v1h-1zM1254,267h1v1h-1zM1255,268h1v2h-1zM1256,270h1v1h-1zM1257,271h1v1h-1zM1258,272h1v1h-1zM1259,273h1v2h-1zM1260,275h1v1h-1zM1261,276h1v2h-1zM1262,278h1v1h-1zM1263,279h1v2h-1zM1264,281h1v1h-1zM1265,282h1v2h-1zM1266,284h1v1h-1zM1267,285h1v2h-1zM1268,287h1v1h-1zM1269,288h1v2h-1zM1270,290h1v1h-1zM1271,291h1v2h-1zM1272,293h1v1h-1zM1273,294h1v1h-1zM1274,295h1v1h-1zM1275,296h1v2h-1zM1276,298h1v2h-1zM1277,300h1v1h-1zM1278,301h1v2h-1zM1279,303h1v2h-1zM1280,305h1v1h-1zM1281,306h1v2h-1zM1282,308h1v1h-1zM1283,309h1v2h-1zM1284,311h1v2h-1zM1285,313h1v2h-1zM1286,315h1v2h-1zM1287,317h1v2h-1zM1288,319h1v2h-1zM1289,321h1v2h-1zM1290,323h1v3h-1zM1291,326h1v2h-1zM1292,328h1v2h-1zM1293,330h1v2h-1zM1294,332h1v2h-1zM1295,334h1v2h-1zM1296,336h1v2h-1zM1297,338h1v2h-1zM1298,340h1v1h-1zM1299,342h1v1h-1zM1300,343h1v2h-1zM1301,345h1v2h-1zM1302,347h1v2h-1zM1303,349h1v2h-1zM1304,351h1v1h-1zM1305,352h1v2h-1zM1306,354h1v2h-1zM1307,356h1v2h-1zM1308,358h1v2h-1zM1309,360h1v2h-1zM1310,362h1v2h-1zM1311,364h1v2h-1zM1312,366h1v2h-1zM1313,368h1v2h-1zM1314,370h1v1h-1zM1315,371h1v2h-1zM1316,373h1v2h-1zM1317,375h1v1h-1zM1318,377h1v1h-1zM1319,378h1v1h-1zM1320,379h1v1h-1zM1321,380h1v2h-1zM1322,382h1v1h-1zM1323,383h1v1h-1zM1324,384h1v1h-1zM1325,385h1v2h-1zM1326,387h1v1h-1zM1327,388h1v1h-1zM1328,389h1v2h-1zM1329,391h1v1h-1zM1330,392h1v1h-1zM1331,393h1v2h-1zM1332,395h1v1h-1zM1333,396h1v2h-1zM1334,398h1v1h-1zM1335,399h1v1h-1zM1336,400h1v2h-1zM1337,402h1v1h-1zM1338,403h1v2h-1zM1339,405h1v1h-1zM1340,406h1v2h-1zM1341,408h1v1h-1zM1342,409h1v2h-1zM1343,411h1v1h-1zM1344,412h1v2h-1zM1345,414h1v2h-1zM1346,416h1v1h-1zM1347,417h1v2h-1zM1348,419h1v1h-1zM1349,420h1v1h-1zM1350,421h1v2h-1zM1351,423h1v1h-1zM1352,424h1v2h-1zM1353,426h1v1h-1zM1354,427h1v2h-1zM1355,429h1v1h-1zM1356,430h1v2h-1zM1357,432h1v1h-1zM1358,433h1v2h-1zM1359,435h1v1h-1zM1360,436h1v1h-1zM1361,437h1v1h-1zM1362,438h1v1h-1zM1363,439h1v1h-1zM1364,440h1v1h-1zM1365,441h1v1h-1zM1366,442h1v1h-1z"/>
<path d="M15,512h11v1h-11zM469,273h2v1h-2zM458,279h2v1h-2zM914,431h2v1h-2zM1019,443h23v1h-23zM174,558h3v1h-3zM479,269h3v1h-3zM1208,269h2v1h-2zM151,552h4v1h-4zM912,432h2v1h-2zM202,570h3v1h-3zM210,570h3v1h-3zM362,373h2v1h-2zM155,553h5v1h-5zM1052,436h2v1h-2zM395,332h2v1h-2zM358,375h2v1h-2zM1097,375h3v1h-3zM360,374h2v1h-2zM462,277h2v1h-2zM33,515h7v1h-7zM980,408h4v1h-4zM89,546h2v1h-2zM247,546h2v1h-2zM397,331h2v1h-2zM1095,376h2v1h-2zM1145,272h3v1h-3zM1213,272h2v1h-2zM475,270h4v1h-4zM1150,270h3v1h-3zM1210,270h2v1h-2zM169,556h3v1h-3zM516,245h4v1h-4zM539,245h2v1h-2zM638,245h2v1h-2zM146,551h5v1h-5zM967,411h4v1h-4zM482,268h2v1h-2zM1206,268h2v1h-2zM599,260h2v1h-2zM592,256h2v1h-2zM942,419h2v1h-2zM949,419h4v1h-4zM366,371h2v1h-2zM654,236h16v1h-16zM673,236h2v1h-2zM486,266h2v1h-2zM1182,266h2v1h-2zM1203,266h2v1h-2zM590,255h2v1h-2zM614,255h2v1h-2zM509,248h2v1h-2zM545,248h3v1h-3zM562,248h8v1h-8zM576,248h3v1h-3zM684,231h2v1h-2zM186,563h2v1h-2zM224,563h2v1h-2zM650,238h2v1h-2zM143,550h3v1h-3zM605,262h2v1h-2zM1189,262h2v1h-2zM1195,262h3v1h-3zM520,244h4v1h-4zM537,244h2v1h-2zM420,306h2v1h-2zM944,418h5v1h-5zM953,418h3v1h-3zM437,296h3v1h-3zM597,259h2v1h-2zM609,259h2v1h-2zM739,144h3v1h-3zM183,562h3v1h-3zM226,562h2v1h-2zM87,545h2v1h-2zM249,545h2v1h-2zM927,424h5v1h-5zM507,249h2v1h-2zM548,249h14v1h-14zM579,249h3v1h-3zM632,249h2v1h-2zM1090,379h2v1h-2zM315,428h3v1h-3zM890,428h2v1h-2zM898,428h3v1h-3zM920,428h2v1h-2zM495,252h9v1h-9zM582,250h3v1h-3zM622,250h10v1h-10zM617,253h2v1h-2zM686,230h2v1h-2zM1187,263h2v1h-2zM1198,263h3v1h-3zM464,276h2v1h-2zM1218,276h2v1h-2zM472,271h3v1h-3zM1148,271h2v1h-2zM1153,271h24v1h-24zM648,239h2v1h-2zM77,538h2v1h-2zM63,525h2v1h-2zM1002,433h2v1h-2zM1010,439h2v1h-2zM1048,439h2v1h-2zM1185,264h2v1h-2zM675,235h2v1h-2zM511,247h2v1h-2zM543,247h2v1h-2zM570,247h6v1h-6zM635,247h2v1h-2zM971,410h6v1h-6zM353,378h2v1h-2zM318,427h2v1h-2zM888,427h2v1h-2zM904,427h2v1h-2zM922,427h2v1h-2zM311,430h2v1h-2zM894,430h3v1h-3zM916,430h2v1h-2zM677,234h2v1h-2zM1008,438h2v1h-2zM193,566h3v1h-3zM218,566h2v1h-2zM876,415h2v1h-2zM958,416h3v1h-3zM642,242h2v1h-2zM601,261h4v1h-4zM1191,261h4v1h-4zM172,557h2v1h-2zM53,518h2v1h-2zM938,421h2v1h-2zM454,281h2v1h-2zM105,564h4v1h-4zM188,564h3v1h-3zM222,564h2v1h-2zM426,301h2v1h-2zM1013,441h2v1h-2zM1044,441h2v1h-2zM109,565h2v1h-2zM191,565h2v1h-2zM220,565h2v1h-2zM165,555h4v1h-4zM595,258h2v1h-2zM484,267h2v1h-2zM1180,267h2v1h-2zM91,547h3v1h-3zM127,547h8v1h-8zM136,547h2v1h-2zM435,297h2v1h-2zM932,423h3v1h-3zM197,568h3v1h-3zM313,429h2v1h-2zM892,429h2v1h-2zM918,429h2v1h-2zM56,520h2v1h-2zM120,554h2v1h-2zM160,554h5v1h-5zM179,560h2v1h-2zM230,560h2v1h-2zM11,513h4v1h-4zM26,513h3v1h-3zM80,540h2v1h-2zM886,426h2v1h-2zM902,426h2v1h-2zM301,440h2v1h-2zM1046,440h2v1h-2zM962,414h2v1h-2zM460,278h2v1h-2zM200,569h2v1h-2zM213,569h2v1h-2zM644,241h2v1h-2zM141,549h2v1h-2zM243,549h2v1h-2zM364,372h2v1h-2zM66,527h2v1h-2zM177,559h2v1h-2zM232,559h2v1h-2zM428,300h2v1h-2zM50,516h2v1h-2zM393,333h2v1h-2zM338,397h2v1h-2zM456,280h2v1h-2zM585,251h2v1h-2zM467,274h2v1h-2zM936,422h2v1h-2zM940,420h2v1h-2zM977,409h3v1h-3zM737,145h2v1h-2zM452,282h2v1h-2zM524,243h12v1h-12zM965,412h2v1h-2zM513,246h3v1h-3zM541,246h2v1h-2zM693,225h2v1h-2zM254,542h2v1h-2zM430,299h3v1h-3zM355,377h2v1h-2zM1093,377h2v1h-2zM433,298h2v1h-2zM690,227h2v1h-2zM341,395h2v1h-2zM646,240h2v1h-2zM7,514h4v1h-4zM30,514h3v1h-3zM40,514h9v1h-9zM298,442h2v1h-2zM1015,442h3v1h-3zM1042,442h2v1h-2zM94,548h2v1h-2zM138,548h2v1h-2zM59,522h2v1h-2zM956,417h2v1h-2zM181,561h2v1h-2zM228,561h2v1h-2zM679,233h2v1h-2zM1054,435h2v1h-2zM681,232h3v1h-3zM205,571h2v1h-2zM208,571h2v1h-2zM652,237h2v1h-2zM670,237h2v1h-2zM85,544h2v1h-2zM0,521h1v2h-1zM1,520h1v1h-1zM2,519h1v1h-1zM3,518h1v1h-1zM4,517h1v1h-1zM5,516h1v1h-1zM6,515h1v1h-1zM49,515h1v1h-1zM52,517h1v1h-1zM55,519h1v1h-1zM58,521h1v1h-1zM61,523h1v1h-1zM62,524h1v1h-1zM65,526h1v1h-1zM68,528h1v1h-1zM69,529h1v1h-1zM70,530h1v1h-1zM71,531h1v2h-1zM72,533h1v1h-1zM73,534h1v1h-1zM74,535h1v1h-1zM75,536h1v1h-1zM76,537h1v1h-1zM79,539h1v1h-1zM82,541h1v1h-1zM83,542h1v1h-1zM84,543h1v1h-1zM96,549h1v2h-1zM97,551h1v2h-1zM98,553h1v3h-1zM99,556h1v1h-1zM100,557h1v2h-1zM101,559h1v1h-1zM102,560h1v1h-1zM103,561h1v1h-1zM104,562h1v2h-1zM111,564h1v1h-1zM112,563h1v1h-1zM113,562h1v1h-1zM114,561h1v1h-1zM115,560h1v1h-1zM116,559h1v1h-1zM117,558h1v1h-1zM118,557h1v1h-1zM119,555h1v2h-1zM122,553h1v1h-1zM123,551h1v2h-1zM124,550h1v1h-1zM125,549h1v1h-1zM126,548h1v1h-1zM135,546h1v1h-1zM196,567h1v1h-1zM207,572h1v1h-1zM215,568h1v1h-1zM217,567h1v1h-1zM234,558h1v1h-1zM235,557h1v1h-1zM236,556h1v1h-1zM237,555h1v1h-1zM238,554h1v1h-1zM239,553h1v1h-1zM240,552h1v1h-1zM241,551h1v1h-1zM242,550h1v1h-1zM245,548h1v1h-1zM246,547h1v1h-1zM251,544h1v1h-1zM253,543h1v1h-1zM256,538h1v4h-1zM257,535h1v3h-1zM258,533h1v2h-1zM259,529h1v4h-1zM260,526h1v3h-1zM261,523h1v3h-1zM262,520h1v3h-1zM263,516h1v4h-1zM264,513h1v3h-1zM265,510h1v3h-1zM266,507h1v3h-1zM267,505h1v2h-1zM268,501h1v3h-1zM269,498h1v3h-1zM270,495h1v3h-1zM271,492h1v3h-1zM272,490h1v2h-1zM273,487h1v3h-1zM274,485h1v2h-1zM275,483h1v2h-1zM276,482h1v1h-1zM277,480h1v2h-1zM278,478h1v2h-1zM279,476h1v2h-1zM280,474h1v2h-1zM281,472h1v2h-1zM282,470h1v2h-1zM283,468h1v2h-1zM284,465h1v3h-1zM285,463h1v2h-1zM286,462h1v1h-1zM287,460h1v2h-1zM288,458h1v2h-1zM289,456h1v2h-1zM290,454h1v2h-1zM291,452h1v2h-1zM292,450h1v2h-1zM293,448h1v2h-1zM294,446h1v2h-1zM295,445h1v1h-1zM296,444h1v1h-1zM297,443h1v1h-1zM300,441h1v1h-1zM303,439h1v1h-1zM304,438h1v1h-1zM305,436h1v2h-1zM306,435h1v1h-1zM307,434h1v1h-1zM308,433h1v1h-1zM309,432h1v1h-1zM310,431h1v1h-1zM320,425h1v2h-1zM321,423h1v2h-1zM322,421h1v2h-1zM323,419h1v2h-1zM324,416h1v3h-1zM325,415h1v1h-1zM326,413h1v1h-1zM327,411h1v2h-1zM328,410h1v1h-1zM329,408h1v2h-1zM330,407h1v1h-1zM331,406h1v1h-1zM332,405h1v1h-1zM333,403h1v2h-1zM334,402h1v1h-1zM335,401h1v1h-1zM336,399h1v2h-1zM337,398h1v1h-1zM340,396h1v1h-1zM343,394h1v1h-1zM344,392h1v2h-1zM345,390h1v2h-1zM346,388h1v2h-1zM347,387h1v1h-1zM348,385h1v2h-1zM349,383h1v2h-1zM350,381h1v2h-1zM351,380h1v1h-1zM352,379h1v1h-1zM357,376h1v1h-1zM368,369h1v2h-1zM369,368h1v1h-1zM370,367h1v1h-1zM371,366h1v1h-1zM372,365h1v1h-1zM373,363h1v2h-1zM374,362h1v1h-1zM375,361h1v1h-1zM376,360h1v1h-1zM377,359h1v1h-1zM378,358h1v1h-1zM379,356h1v2h-1zM380,354h1v2h-1zM381,353h1v1h-1zM382,351h1v2h-1zM383,349h1v2h-1zM384,348h1v1h-1zM385,346h1v2h-1zM386,344h1v2h-1zM387,342h1v2h-1zM388,340h1v2h-1zM389,338h1v2h-1zM390,336h1v2h-1zM391,335h1v1h-1zM392,334h1v1h-1zM399,330h1v1h-1zM400,329h1v1h-1zM401,328h1v1h-1zM402,327h1v1h-1zM403,326h1v1h-1zM404,325h1v1h-1zM405,324h1v1h-1zM406,323h1v1h-1zM407,322h1v1h-1zM408,321h1v1h-1zM409,320h1v1h-1zM410,318h1v2h-1zM411,317h1v1h-1zM412,315h1v2h-1zM413,313h1v2h-1zM414,312h1v1h-1zM415,311h1v1h-1zM416,310h1v1h-1zM417,309h1v1h-1zM418,308h1v1h-1zM419,307h1v1h-1zM422,305h1v1h-1zM423,304h1v1h-1zM424,303h1v1h-1zM425,302h1v1h-1zM440,294h1v2h-1zM441,293h1v1h-1zM442,292h1v1h-1zM443,291h1v1h-1zM444,290h1v1h-1zM445,289h1v1h-1zM446,288h1v1h-1zM447,287h1v1h-1zM448,286h1v1h-1zM449,285h1v1h-1zM450,284h1v1h-1zM451,283h1v1h-1zM466,275h1v1h-1zM471,272h1v1h-1zM488,264h1v2h-1zM489,262h1v2h-1zM490,260h1v2h-1zM491,258h1v2h-1zM492,256h1v2h-1zM493,254h1v2h-1zM494,253h1v1h-1zM504,251h1v1h-1zM506,250h1v1h-1zM587,252h1v1h-1zM588,253h1v1h-1zM589,254h1v1h-1zM594,257h1v1h-1zM607,261h1v1h-1zM608,260h1v1h-1zM611,258h1v1h-1zM612,257h1v1h-1zM613,256h1v1h-1zM616,254h1v1h-1zM619,252h1v1h-1zM621,251h1v1h-1zM634,248h1v1h-1zM637,246h1v1h-1zM640,244h1v1h-1zM641,243h1v1h-1zM688,229h1v1h-1zM689,228h1v1h-1zM692,226h1v1h-1zM695,223h1v2h-1zM696,221h1v2h-1zM697,219h1v2h-1zM698,217h1v2h-1zM699,216h1v1h-1zM700,213h1v3h-1zM701,211h1v2h-1zM702,209h1v2h-1zM703,207h1v2h-1zM704,205h1v2h-1zM705,202h1v3h-1zM706,200h1v2h-1zM707,198h1v2h-1zM708,196h1v2h-1zM709,194h1v2h-1zM710,192h1v2h-1zM711,190h1v2h-1zM712,188h1v2h-1zM713,186h1v2h-1zM714,184h1v2h-1zM715,182h1v2h-1zM716,180h1v2h-1zM717,177h1v3h-1zM718,175h1v2h-1zM719,172h1v3h-1zM720,171h1v1h-1zM721,169h1v1h-1zM722,166h1v3h-1zM723,164h1v2h-1zM724,163h1v1h-1zM725,161h1v2h-1zM726,160h1v1h-1zM727,158h1v1h-1zM728,156h1v2h-1zM729,155h1v1h-1zM730,153h1v2h-1zM731,151h1v2h-1zM732,150h1v1h-1zM733,148h1v2h-1zM734,147h1v1h-1zM735,146h1v1h-1zM742,143h1v1h-1zM743,144h1v2h-1zM744,146h1v2h-1zM745,148h1v1h-1zM746,149h1v2h-1zM747,151h1v2h-1zM748,153h1v2h-1zM749,155h1v2h-1zM750,157h1v2h-1zM751,159h1v1h-1zM752,160h1v2h-1zM753,162h1v1h-1zM754,163h1v2h-1zM755,165h1v1h-1zM756,166h1v2h-1zM757,168h1v2h-1zM758,170h1v1h-1zM759,171h1v2h-1zM760,173h1v2h-1zM761,175h1v1h-1zM762,176h1v2h-1zM763,178h1v2h-1zM764,180h1v2h-1zM765,182h1v1h-1zM766,183h1v3h-1zM767,186h1v3h-1zM768,189h1v4h-1zM769,193h1v3h-1zM770,196h1v4h-1zM771,200h1v4h-1zM772,204h1v3h-1zM773,207h1v4h-1zM774,211h1v4h-1zM775,215h1v3h-1zM776,218h1v4h-1zM777,222h1v4h-1zM778,226h1v4h-1zM779,230h1v2h-1zM780,232h1v2h-1zM781,235h1v1h-1zM782,236h1v3h-1zM783,239h1v2h-1zM784,241h1v3h-1zM785,244h1v2h-1zM786,246h1v4h-1zM787,250h1v2h-1zM788,252h1v3h-1zM789,255h1v4h-1zM790,259h1v3h-1zM791,262h1v3h-1zM792,265h1v3h-1zM793,268h1v2h-1zM794,270h1v3h-1zM795,273h1v2h-1zM796,275h1v3h-1zM797,278h1v2h-1zM798,280h1v3h-1zM799,283h1v1h-1zM800,284h1v1h-1zM801,285h1v2h-1zM802,287h1v2h-1zM803,289h1v2h-1zM804,291h1v2h-1zM805,293h1v2h-1zM806,295h1v3h-1zM807,298h1v2h-1zM808,300h1v2h-1zM809,302h1v2h-1zM810,304h1v2h-1zM811,306h1v2h-1zM812,308h1v3h-1zM813,311h1v2h-1zM814,313h1v3h-1zM815,316h1v2h-1zM816,318h1v2h-1zM817,320h1v3h-1zM818,323h1v2h-1zM819,325h1v3h-1zM820,328h1v2h-1zM821,330h1v2h-1zM822,332h1v2h-1zM823,334h1v2h-1zM824,336h1v2h-1zM825,338h1v2h-1zM826,340h1v2h-1zM827,342h1v2h-1zM828,344h1v2h-1zM829,346h1v2h-1zM830,348h1v2h-1zM831,350h1v1h-1zM832,351h1v1h-1zM833,352h1v1h-1zM834,353h1v1h-1zM835,354h1v2h-1zM836,356h1v1h-1zM837,357h1v1h-1zM838,358h1v2h-1zM839,360h1v2h-1zM840,362h1v2h-1zM841,364h1v2h-1zM842,366h1v2h-1zM843,368h1v1h-1zM844,369h1v2h-1zM845,371h1v2h-1zM846,373h1v2h-1zM847,375h1v1h-1zM848,376h1v2h-1zM849,378h1v2h-1zM850,380h1v1h-1zM851,381h1v2h-1zM852,383h1v2h-1zM853,385h1v1h-1zM854,386h1v2h-1zM855,388h1v1h-1zM856,389h1v1h-1zM857,390h1v1h-1zM858,391h1v2h-1zM859,393h1v1h-1zM860,394h1v2h-1zM861,396h1v1h-1zM862,397h1v2h-1zM863,399h1v1h-1zM864,400h1v2h-1zM865,402h1v1h-1zM866,403h1v2h-1zM867,405h1v1h-1zM868,406h1v2h-1zM869,408h1v1h-1zM870,409h1v1h-1zM871,410h1v1h-1zM872,411h1v1h-1zM873,412h1v1h-1zM874,413h1v1h-1zM875,414h1v1h-1zM878,416h1v1h-1zM879,417h1v1h-1zM880,418h1v2h-1zM881,420h1v1h-1zM882,421h1v1h-1zM883,422h1v1h-1zM884,423h1v1h-1zM885,424h1v2h-1zM897,429h1v1h-1zM901,427h1v1h-1zM906,428h1v1h-1zM907,429h1v1h-1zM908,430h1v1h-1zM909,431h1v1h-1zM910,432h1v1h-1zM911,433h1v1h-1zM924,426h1v1h-1zM926,425h1v1h-1zM961,415h1v1h-1zM964,413h1v1h-1zM984,409h1v1h-1zM985,410h1v1h-1zM986,411h1v1h-1zM987,412h1v1h-1zM988,413h1v2h-1zM989,415h1v1h-1zM990,416h1v2h-1zM991,418h1v1h-1zM992,419h1v2h-1zM993,421h1v1h-1zM994,422h1v2h-1zM995,424h1v2h-1zM996,426h1v2h-1zM997,428h1v1h-1zM998,429h1v1h-1zM999,430h1v1h-1zM1000,431h1v1h-1zM1001,432h1v1h-1zM1004,434h1v1h-1zM1005,435h1v1h-1zM1006,436h1v1h-1zM1007,437h1v1h-1zM1012,440h1v1h-1zM1050,438h1v1h-1zM1051,437h1v1h-1zM1056,434h1v1h-1zM1057,433h1v1h-1zM1058,432h1v1h-1zM1059,431h1v1h-1zM1060,430h1v1h-1zM1061,429h1v1h-1zM1062,428h1v1h-1zM1063,427h1v1h-1zM1064,424h1v3h-1zM1065,423h1v1h-1zM1066,421h1v1h-1zM1067,419h1v2h-1zM1068,417h1v2h-1zM1069,415h1v2h-1zM1070,413h1v2h-1zM1071,411h1v2h-1zM1072,409h1v2h-1zM1073,408h1v1h-1zM1074,406h1v2h-1zM1075,405h1v1h-1zM1076,403h1v1h-1zM1077,402h1v1h-1zM1078,400h1v2h-1zM1079,398h1v2h-1zM1080,396h1v2h-1zM1081,394h1v2h-1zM1082,392h1v2h-1zM1083,390h1v2h-1zM1084,388h1v2h-1zM1085,386h1v2h-1zM1086,384h1v2h-1zM1087,382h1v2h-1zM1088,381h1v1h-1zM1089,380h1v1h-1zM1092,378h1v1h-1zM1100,374h1v1h-1zM1102,373h1v1h-1zM1103,372h1v1h-1zM1104,370h1v2h-1zM1105,368h1v2h-1zM1106,367h1v1h-1zM1107,365h1v2h-1zM1108,363h1v2h-1zM1109,361h1v2h-1zM1110,359h1v2h-1zM1111,357h1v2h-1zM1112,354h1v3h-1zM1113,352h1v2h-1zM1114,350h1v2h-1zM1115,348h1v2h-1zM1116,346h1v2h-1zM1117,343h1v3h-1zM1118,341h1v2h-1zM1119,340h1v1h-1zM1120,337h1v3h-1zM1121,334h1v3h-1zM1122,331h1v3h-1zM1123,328h1v3h-1zM1124,326h1v2h-1zM1125,323h1v3h-1zM1126,320h1v3h-1zM1127,317h1v3h-1zM1128,313h1v4h-1zM1129,310h1v3h-1zM1130,306h1v4h-1zM1131,303h1v3h-1zM1132,300h1v3h-1zM1133,297h1v3h-1zM1134,294h1v3h-1zM1135,292h1v2h-1zM1136,289h1v3h-1zM1137,287h1v2h-1zM1138,284h1v3h-1zM1139,282h1v2h-1zM1140,279h1v3h-1zM1141,277h1v2h-1zM1142,275h1v2h-1zM1143,274h1v1h-1zM1144,273h1v1h-1zM1177,270h1v1h-1zM1178,269h1v1h-1zM1179,268h1v1h-1zM1184,265h1v1h-1zM1201,264h1v1h-1zM1202,265h1v1h-1zM1205,267h1v1h-1zM1212,271h1v1h-1zM1215,273h1v1h-1zM1216,274h1v1h-1zM1217,275h1v1h-1zM1220,277h1v2h-1zM1221,279h1v1h-1zM1222,280h1v1h-1zM1223,281h1v2h-1zM1224,283h1v3h-1zM1225,286h1v2h-1zM1226,288h1v2h-1zM1227,290h1v2h-1zM1228,292h1v2h-1zM1229,294h1v2h-1zM1230,296h1v3h-1zM1231,299h1v3h-1zM1232,302h1v4h-1zM1233,306h1v4h-1zM1234,310h1v4h-1zM1235,314h1v3h-1zM1236,317h1v4h-1zM1237,321h1v4h-1zM1238,325h1v6h-1zM1239,331h1v5h-1zM1240,336h1v6h-1zM1241,342h1v6h-1zM1242,348h1v5h-1zM1243,353h1v6h-1zM1244,359h1v6h-1zM1245,365h1v6h-1zM1246,371h1v6h-1zM1247,377h1v6h-1zM1248,383h1v5h-1zM1249,388h1v5h-1zM1250,393h1v4h-1zM1251,398h1v4h-1zM1252,402h1v5h-1zM1253,407h1v5h-1zM1254,412h1v5h-1zM1255,417h1v5h-1zM1256,422h1v5h-1zM1257,427h1v4h-1zM1258,431h1v4h-1zM1259,435h1v4h-1zM1260,439h1v3h-1zM1261,442h1v4h-1zM1262,446h1v4h-1zM1263,450h1v3h-1zM1264,453h1v4h-1zM1265,457h1v3h-1zM1266,460h1v3h-1zM1267,463h1v3h-1zM1268,466h1v4h-1zM1269,470h1v3h-1zM1270,473h1v3h-1zM1271,476h1v4h-1zM1272,480h1v3h-1zM1273,483h1v3h-1zM1274,486h1v3h-1zM1275,489h1v3h-1zM1276,492h1v4h-1zM1277,496h1v3h-1zM1278,499h1v3h-1zM1279,502h1v4h-1zM1280,506h1v3h-1zM1281,509h1v3h-1zM1282,512h1v3h-1zM1283,515h1v3h-1zM1284,518h1v4h-1zM1285,522h1v3h-1zM1286,525h1v4h-1zM1287,529h1v3h-1zM1288,532h1v3h-1zM1289,535h1v4h-1zM1290,539h1v4h-1zM1291,543h1v4h-1zM1292,547h1v4h-1zM1293,551h1v3h-1zM1294,554h1v3h-1zM1295,557h1v3h-1zM1296,560h1v4h-1zM1297,564h1v3h-1zM1298,567h1v4h-1zM1299,571h1v3h-1zM1300,574h1v4h-1zM1301,578h1v2h-1zM1302,581h1v1h-1z"/>
</g>
<g shape-rendering="crispEdges">
<rect x="0" y="443" width="1627" height="2" fill="#ff0000"/>
<rect x="0" y="468" width="1627" height="2" fill="#ff0000"/>
<rect x="0" y="489" width="1627" height="2" fill="#32cd32"/>
<rect x="0" y="537" width="1627" height="2" fill="#0000ff"/>
<rect x="0" y="554" width="1627" height="2" fill="#0000ff"/>
</g>
<g shape-rendering="crispEdges" clip-path="url(#cm)">
<rect x="7" y="433" width="1" height="27" fill="#000"/>
<rect x="5" y="436" width="5" height="20" fill="#000"/>
<rect x="6" y="437" width="3" height="18" fill="#fff"/>
<rect x="15" y="400" width="1" height="30" fill="#000"/>
<rect x="13" y="409" width="5" height="14" fill="#000"/>
<rect x="14" y="410" width="3" height="12" fill="#fff"/>
<rect x="23" y="436" width="1" height="21" fill="#000"/>
<rect x="21" y="439" width="5" height="17" fill="#000"/>
<rect x="31" y="437" width="1" height="21" fill="#000"/>
<rect x="29" y="444" width="5" height="8" fill="#000"/>
<rect x="39" y="441" width="1" height="46" fill="#000"/>
<rect x="37" y="469" width="5" height="7" fill="#000"/>
<rect x="47" y="464" width="1" height="14" fill="#000"/>
<rect x="45" y="465" width="5" height="8" fill="#000"/>
<rect x="46" y="466" width="3" height="6" fill="#fff"/>
<rect x="55" y="470" width="1" height="47" fill="#000"/>
<rect x="53" y="477" width="5" height="26" fill="#000"/>
<rect x="63" y="478" width="1" height="46" fill="#000"/>
<rect x="61" y="490" width="5" height="18" fill="#000"/>
<rect x="62" y="491" width="3" height="16" fill="#fff"/>
<rect x="71" y="491" width="1" height="21" fill="#000"/>
<rect x="69" y="491" width="5" height="15" fill="#000"/>
<rect x="70" y="492" width="3" height="13" fill="#fff"/>
<rect x="79" y="460" width="1" height="60" fill="#000"/>
<rect x="77" y="467" width="5" height="47" fill="#000"/>
<rect x="87" y="492" width="1" height="20" fill="#000"/>
<rect x="85" y="498" width="5" height="5" fill="#000"/>
<rect x="86" y="499" width="3" height="3" fill="#fff"/>
<rect x="95" y="462" width="1" height="24" fill="#000"/>
<rect x="93" y="470" width="5" height="3" fill="#000"/>
<rect x="94" y="471" width="3" height="1" fill="#fff"/>
<rect x="103" y="471" width="1" height="83" fill="#000"/>
<rect x="101" y="472" width="5" height="82" fill="#000"/>
<rect x="111" y="529" width="1" height="34" fill="#000"/>
<rect x="109" y="545" width="5" height="2" fill="#000"/>
<rect x="119" y="490" width="1" height="72" fill="#000"/>
<rect x="117" y="495" width="5" height="65" fill="#000"/>
<rect x="118" y="496" width="3" height="63" fill="#fff"/>
<rect x="127" y="449" width="1" height="33" fill="#000"/>
<rect x="125" y="456" width="5" height="15" fill="#000"/>
<rect x="135" y="458" width="1" height="28" fill="#000"/>
<rect x="133" y="465" width="5" height="3" fill="#000"/>
<rect x="143" y="398" width="1" height="46" fill="#000"/>
<rect x="141" y="410" width="5" height="34" fill="#000"/>
<rect x="142" y="411" width="3" height="32" fill="#fff"/>
<rect x="151" y="400" width="1" height="38" fill="#000"/>
<rect x="149" y="415" width="5" height="8" fill="#000"/>
<rect x="150" y="416" width="3" height="6" fill="#fff"/>
<rect x="159" y="391" width="1" height="21" fill="#000"/>
<rect x="157" y="391" width="5" height="4" fill="#000"/>
<rect x="167" y="401" width="1" height="43" fill="#000"/>
<rect x="165" y="404" width="5" height="27" fill="#000"/>
<rect x="175" y="378" width="1" height="41" fill="#000"/>
<rect x="173" y="389" width="5" height="24" fill="#000"/>
<rect x="174" y="390" width="3" height="22" fill="#fff"/>
<rect x="183" y="372" width="1" height="35" fill="#000"/>
<rect x="181" y="374" width="5" height="20" fill="#000"/>
<rect x="182" y="375" width="3" height="18" fill="#fff"/>
<rect x="191" y="362" width="1" height="35" fill="#000"/>
<rect x="189" y="372" width="5" height="16" fill="#000"/>
<rect x="199" y="352" width="1" height="21" fill="#000"/>
<rect x="197" y="356" width="5" height="14" fill="#000"/>
<rect x="198" y="357" width="3" height="12" fill="#fff"/>
<rect x="207" y="333" width="1" height="32" fill="#000"/>
<rect x="205" y="343" width="5" height="2" fill="#000"/>
<rect x="215" y="341" width="1" height="41" fill="#000"/>
<rect x="213" y="352" width="5" height="14" fill="#000"/>
<rect x="223" y="351" width="1" height="27" fill="#000"/>
<rect x="221" y="367" width="5" height="10" fill="#000"/>
<rect x="222" y="368" width="3" height="8" fill="#fff"/>
<rect x="231" y="353" width="1" height="25" fill="#000"/>
<rect x="229" y="357" width="5" height="4" fill="#000"/>
<rect x="230" y="358" width="3" height="2" fill="#fff"/>
<rect x="239" y="309" width="1" height="38" fill="#000"/>
<rect x="237" y="309" width="5" height="31" fill="#000"/>
<rect x="238" y="310" width="3" height="29" fill="#fff"/>
<rect x="247" y="290" width="1" height="34" fill="#000"/>
<rect x="245" y="302" width="5" height="13" fill="#000"/>
<rect x="255" y="315" width="1" height="25" fill="#000"/>
<rect x="253" y="316" width="5" height="25" fill="#000"/>
<rect x="254" y="317" width="3" height="23" fill="#fff"/>
<rect x="263" y="303" width="1" height="32" fill="#000"/>
<rect x="261" y="306" width="5" height="14" fill="#000"/>
<rect x="262" y="307" width="3" height="12" fill="#fff"/>
<rect x="271" y="266" width="1" height="34" fill="#000"/>
<rect x="269" y="267" width="5" height="20" fill="#000"/>
<rect x="270" y="268" width="3" height="18" fill="#fff"/>
<rect x="279" y="254" width="1" height="44" fill="#000"/>
<rect x="277" y="259" width="5" height="27" fill="#000"/>
<rect x="287" y="278" width="1" height="16" fill="#000"/>
<rect x="285" y="282" width="5" height="3" fill="#000"/>
<rect x="295" y="277" width="1" height="48" fill="#000"/>
<rect x="293" y="278" width="5" height="27" fill="#000"/>
<rect x="294" y="279" width="3" height="25" fill="#fff"/>
<rect x="303" y="258" width="1" height="38" fill="#000"/>
<rect x="301" y="261" width="5" height="21" fill="#000"/>
<rect x="302" y="262" width="3" height="19" fill="#fff"/>
<rect x="311" y="256" width="1" height="25" fill="#000"/>
<rect x="309" y="257" width="5" height="5" fill="#000"/>
<rect x="319" y="226" width="1" height="38" fill="#000"/>
<rect x="317" y="236" width="5" height="20" fill="#000"/>
<rect x="318" y="237" width="3" height="18" fill="#fff"/>
<rect x="327" y="232" width="1" height="21" fill="#000"/>
<rect x="325" y="241" width="5" height="3" fill="#000"/>
<rect x="326" y="242" width="3" height="1" fill="#fff"/>
<rect x="335" y="251" width="1" height="43" fill="#000"/>
<rect x="333" y="261" width="5" height="25" fill="#000"/>
<rect x="343" y="237" width="1" height="25" fill="#000"/>
<rect x="341" y="242" width="5" height="13" fill="#000"/>
<rect x="342" y="243" width="3" height="11" fill="#fff"/>
<rect x="351" y="231" width="1" height="31" fill="#000"/>
<rect x="349" y="245" width="5" height="14" fill="#000"/>
<rect x="359" y="220" width="1" height="27" fill="#000"/>
<rect x="357" y="226" width="5" height="22" fill="#000"/>
<rect x="358" y="227" width="3" height="20" fill="#fff"/>
<rect x="367" y="200" width="1" height="40" fill="#000"/>
<rect x="365" y="212" width="5" height="11" fill="#000"/>
<rect x="366" y="213" width="3" height="9" fill="#fff"/>
<rect x="375" y="193" width="1" height="42" fill="#000"/>
<rect x="373" y="198" width="5" height="29" fill="#000"/>
<rect x="374" y="199" width="3" height="27" fill="#fff"/>
<rect x="383" y="178" width="1" height="27" fill="#000"/>
<rect x="381" y="186" width="5" height="5" fill="#000"/>
<rect x="391" y="178" width="1" height="29" fill="#000"/>
<rect x="389" y="181" width="5" height="23" fill="#000"/>
<rect x="399" y="177" width="1" height="33" fill="#000"/>
<rect x="397" y="193" width="5" height="12" fill="#000"/>
<rect x="407" y="188" width="1" height="33" fill="#000"/>
<rect x="405" y="204" width="5" height="8" fill="#000"/>
<rect x="415" y="195" width="1" height="18" fill="#000"/>
<rect x="413" y="205" width="5" height="1" fill="#000"/>
<rect x="423" y="156" width="1" height="51" fill="#000"/>
<rect x="421" y="191" width="5" height="2" fill="#000"/>
<rect x="431" y="181" width="1" height="30" fill="#000"/>
<rect x="429" y="190" width="5" height="14" fill="#000"/>
<rect x="430" y="191" width="3" height="12" fill="#fff"/>
<rect x="439" y="172" width="1" height="21" fill="#000"/>
<rect x="437" y="177" width="5" height="12" fill="#000"/>
<rect x="438" y="178" width="3" height="10" fill="#fff"/>
<rect x="447" y="179" width="1" height="28" fill="#000"/>
<rect x="445" y="188" width="5" height="19" fill="#000"/>
<rect x="455" y="226" width="1" height="31" fill="#000"/>
<rect x="453" y="230" width="5" height="21" fill="#000"/>
<rect x="463" y="224" width="1" height="41" fill="#000"/>
<rect x="461" y="228" width="5" height="37" fill="#000"/>
<rect x="462" y="229" width="3" height="35" fill="#fff"/>
<rect x="471" y="181" width="1" height="25" fill="#000"/>
<rect x="469" y="189" width="5" height="14" fill="#000"/>
<rect x="470" y="190" width="3" height="12" fill="#fff"/>
<rect x="479" y="183" width="1" height="25" fill="#000"/>
<rect x="477" y="188" width="5" height="10" fill="#000"/>
<rect x="487" y="184" width="1" height="27" fill="#000"/>
<rect x="485" y="190" width="5" height="3" fill="#000"/>
<rect x="486" y="191" width="3" height="1" fill="#fff"/>
<rect x="495" y="157" width="1" height="40" fill="#000"/>
<rect x="493" y="176" width="5" height="15" fill="#000"/>
<rect x="494" y="177" width="3" height="13" fill="#fff"/>
<rect x="503" y="139" width="1" height="36" fill="#000"/>
<rect x="501" y="144" width="5" height="25" fill="#000"/>
<rect x="502" y="145" width="3" height="23" fill="#fff"/>
<rect x="511" y="130" width="1" height="20" fill="#000"/>
<rect x="509" y="134" width="5" height="12" fill="#000"/>
<rect x="510" y="135" width="3" height="10" fill="#fff"/>
<rect x="519" y="137" width="1" height="20" fill="#000"/>
<rect x="517" y="144" width="5" height="7" fill="#000"/>
<rect x="527" y="136" width="1" height="38" fill="#000"/>
<rect x="525" y="150" width="5" height="20" fill="#000"/>
<rect x="535" y="155" width="1" height="41" fill="#000"/>
<rect x="533" y="159" width="5" height="14" fill="#000"/>
<rect x="543" y="210" width="1" height="24" fill="#000"/>
<rect x="541" y="225" width="5" height="2" fill="#000"/>
<rect x="551" y="203" width="1" height="33" fill="#000"/>
<rect x="549" y="206" width="5" height="18" fill="#000"/>
<rect x="559" y="197" width="1" height="22" fill="#000"/>
<rect x="557" y="208" width="5" height="5" fill="#000"/>
<rect x="558" y="209" width="3" height="3" fill="#fff"/>
<rect x="567" y="192" width="1" height="28" fill="#000"/>
<rect x="565" y="202" width="5" height="17" fill="#000"/>
<rect x="566" y="203" width="3" height="15" fill="#fff"/>
<rect x="575" y="163" width="1" height="39" fill="#000"/>
<rect x="573" y="174" width="5" height="22" fill="#000"/>
<rect x="574" y="175" width="3" height="20" fill="#fff"/>
<rect x="583" y="117" width="1" height="25" fill="#000"/>
<rect x="581" y="126" width="5" height="12" fill="#000"/>
<rect x="582" y="127" width="3" height="10" fill="#fff"/>
<rect x="591" y="111" width="1" height="16" fill="#000"/>
<rect x="589" y="111" width="5" height="5" fill="#000"/>
<rect x="590" y="112" width="3" height="3" fill="#fff"/>
<rect x="599" y="82" width="1" height="29" fill="#000"/>
<rect x="597" y="91" width="5" height="17" fill="#000"/>
<rect x="598" y="92" width="3" height="15" fill="#fff"/>
<rect x="607" y="78" width="1" height="28" fill="#000"/>
<rect x="605" y="85" width="5" height="3" fill="#000"/>
<rect x="615" y="67" width="1" height="24" fill="#000"/>
<rect x="613" y="73" width="5" height="4" fill="#000"/>
<rect x="623" y="60" width="1" height="22" fill="#000"/>
<rect x="621" y="68" width="5" height="6" fill="#000"/>
<rect x="622" y="69" width="3" height="4" fill="#fff"/>
<rect x="631" y="69" width="1" height="24" fill="#000"/>
<rect x="629" y="76" width="5" height="4" fill="#000"/>
<rect x="630" y="77" width="3" height="2" fill="#fff"/>
<rect x="639" y="66" width="1" height="41" fill="#000"/>
<rect x="637" y="72" width="5" height="33" fill="#000"/>
<rect x="647" y="88" width="1" height="27" fill="#000"/>
<rect x="645" y="92" width="5" height="7" fill="#000"/>
<rect x="646" y="93" width="3" height="5" fill="#fff"/>
<rect x="655" y="56" width="1" height="54" fill="#000"/>
<rect x="653" y="73" width="5" height="31" fill="#000"/>
<rect x="663" y="70" width="1" height="46" fill="#000"/>
<rect x="661" y="76" width="5" height="31" fill="#000"/>
<rect x="662" y="77" width="3" height="29" fill="#fff"/>
<rect x="671" y="68" width="1" height="19" fill="#000"/>
<rect x="669" y="73" width="5" height="1" fill="#000"/>
<rect x="679" y="77" width="1" height="22" fill="#000"/>
<rect x="677" y="84" width="5" height="10" fill="#000"/>
<rect x="687" y="81" width="1" height="31" fill="#000"/>
<rect x="685" y="92" width="5" height="4" fill="#000"/>
<rect x="686" y="93" width="3" height="2" fill="#fff"/>
<rect x="695" y="76" width="1" height="44" fill="#000"/>
<rect x="693" y="80" width="5" height="31" fill="#000"/>
<rect x="703" y="102" width="1" height="32" fill="#000"/>
<rect x="701" y="121" width="5" height="12" fill="#000"/>
<rect x="711" y="135" width="1" height="23" fill="#000"/>
<rect x="709" y="145" width="5" height="13" fill="#000"/>
<rect x="710" y="146" width="3" height="11" fill="#fff"/>
<rect x="719" y="113" width="1" height="29" fill="#000"/>
<rect x="717" y="117" width="5" height="16" fill="#000"/>
<rect x="718" y="118" width="3" height="14" fill="#fff"/>
<rect x="727" y="123" width="1" height="24" fill="#000"/>
<rect x="725" y="125" width="5" height="13" fill="#000"/>
<rect x="735" y="112" width="1" height="32" fill="#000"/>
<rect x="733" y="119" width="5" height="24" fill="#000"/>
<rect x="734" y="120" width="3" height="22" fill="#fff"/>
<rect x="743" y="99" width="1" height="44" fill="#000"/>
<rect x="741" y="100" width="5" height="30" fill="#000"/>
<rect x="742" y="101" width="3" height="28" fill="#fff"/>
<rect x="751" y="153" width="1" height="57" fill="#000"/>
<rect x="749" y="153" width="5" height="31" fill="#000"/>
<rect x="759" y="158" width="1" height="30" fill="#000"/>
<rect x="757" y="170" width="5" height="2" fill="#000"/>
<rect x="767" y="182" width="1" height="33" fill="#000"/>
<rect x="765" y="199" width="5" height="17" fill="#000"/>
<rect x="766" y="200" width="3" height="15" fill="#fff"/>
<rect x="775" y="213" width="1" height="60" fill="#000"/>
<rect x="773" y="216" width="5" height="55" fill="#000"/>
<rect x="783" y="218" width="1" height="62" fill="#000"/>
<rect x="781" y="243" width="5" height="1" fill="#000"/>
<rect x="791" y="276" width="1" height="34" fill="#000"/>
<rect x="789" y="286" width="5" height="22" fill="#000"/>
<rect x="790" y="287" width="3" height="20" fill="#fff"/>
<rect x="799" y="257" width="1" height="33" fill="#000"/>
<rect x="797" y="267" width="5" height="20" fill="#000"/>
<rect x="798" y="268" width="3" height="18" fill="#fff"/>
<rect x="807" y="259" width="1" height="33" fill="#000"/>
<rect x="805" y="265" width="5" height="24" fill="#000"/>
<rect x="806" y="266" width="3" height="22" fill="#fff"/>
<rect x="815" y="247" width="1" height="57" fill="#000"/>
<rect x="813" y="249" width="5" height="50" fill="#000"/>
<rect x="823" y="288" width="1" height="30" fill="#000"/>
<rect x="821" y="288" width="5" height="21" fill="#000"/>
<rect x="831" y="289" width="1" height="35" fill="#000"/>
<rect x="829" y="314" width="5" height="1" fill="#000"/>
<rect x="839" y="299" width="1" height="20" fill="#000"/>
<rect x="837" y="309" width="5" height="4" fill="#000"/>
<rect x="838" y="310" width="3" height="2" fill="#fff"/>
<rect x="847" y="322" width="1" height="33" fill="#000"/>
<rect x="845" y="331" width="5" height="15" fill="#000"/>
<rect x="855" y="325" width="1" height="20" fill="#000"/>
<rect x="853" y="337" width="5" height="8" fill="#000"/>
<rect x="854" y="338" width="3" height="6" fill="#fff"/>
<rect x="863" y="333" width="1" height="27" fill="#000"/>
<rect x="861" y="339" width="5" height="7" fill="#000"/>
<rect x="871" y="324" width="1" height="26" fill="#000"/>
<rect x="869" y="336" width="5" height="9" fill="#000"/>
<rect x="870" y="337" width="3" height="7" fill="#fff"/>
<rect x="879" y="342" width="1" height="24" fill="#000"/>
<rect x="877" y="359" width="5" height="2" fill="#000"/>
<rect x="887" y="350" width="1" height="31" fill="#000"/>
<rect x="885" y="354" width="5" height="19" fill="#000"/>
<rect x="895" y="364" width="1" height="30" fill="#000"/>
<rect x="893" y="383" width="5" height="10" fill="#000"/>
<rect x="903" y="382" width="1" height="23" fill="#000"/>
<rect x="901" y="387" width="5" height="6" fill="#000"/>
<rect x="911" y="376" width="1" height="36" fill="#000"/>
<rect x="909" y="377" width="5" height="26" fill="#000"/>
<rect x="919" y="366" width="1" height="32" fill="#000"/>
<rect x="917" y="373" width="5" height="11" fill="#000"/>
<rect x="927" y="377" width="1" height="17" fill="#000"/>
<rect x="925" y="380" width="5" height="9" fill="#000"/>
<rect x="926" y="381" width="3" height="7" fill="#fff"/>
<rect x="935" y="318" width="1" height="47" fill="#000"/>
<rect x="933" y="322" width="5" height="33" fill="#000"/>
<rect x="934" y="323" width="3" height="31" fill="#fff"/>
<rect x="943" y="296" width="1" height="25" fill="#000"/>
<rect x="941" y="301" width="5" height="16" fill="#000"/>
<rect x="942" y="302" width="3" height="14" fill="#fff"/>
<rect x="951" y="312" width="1" height="45" fill="#000"/>
<rect x="949" y="312" width="5" height="43" fill="#000"/>
<rect x="959" y="348" width="1" height="46" fill="#000"/>
<rect x="957" y="351" width="5" height="11" fill="#000"/>
<rect x="958" y="352" width="3" height="9" fill="#fff"/>
<rect x="967" y="350" width="1" height="21" fill="#000"/>
<rect x="965" y="355" width="5" height="7" fill="#000"/>
<rect x="975" y="324" width="1" height="43" fill="#000"/>
<rect x="973" y="352" width="5" height="14" fill="#000"/>
<rect x="974" y="353" width="3" height="12" fill="#fff"/>
<rect x="983" y="318" width="1" height="39" fill="#000"/>
<rect x="981" y="325" width="5" height="23" fill="#000"/>
<rect x="982" y="326" width="3" height="21" fill="#fff"/>
<rect x="991" y="255" width="1" height="25" fill="#000"/>
<rect x="989" y="259" width="5" height="21" fill="#000"/>
<rect x="990" y="260" width="3" height="19" fill="#fff"/>
<rect x="999" y="225" width="1" height="31" fill="#000"/>
<rect x="997" y="226" width="5" height="18" fill="#000"/>
<rect x="998" y="227" width="3" height="16" fill="#fff"/>
<rect x="1007" y="223" width="1" height="23" fill="#000"/>
<rect x="1005" y="226" width="5" height="9" fill="#000"/>
<rect x="1015" y="217" width="1" height="28" fill="#000"/>
<rect x="1013" y="234" width="5" height="6" fill="#000"/>
<rect x="1014" y="235" width="3" height="4" fill="#fff"/>
<rect x="1023" y="227" width="1" height="39" fill="#000"/>
<rect x="1021" y="233" width="5" height="26" fill="#000"/>
<rect x="1031" y="251" width="1" height="28" fill="#000"/>
<rect x="1029" y="259" width="5" height="11" fill="#000"/>
<rect x="1030" y="260" width="3" height="9" fill="#fff"/>
<rect x="1039" y="217" width="1" height="33" fill="#000"/>
<rect x="1037" y="221" width="5" height="23" fill="#000"/>
<rect x="1038" y="222" width="3" height="21" fill="#fff"/>
<rect x="1047" y="220" width="1" height="20" fill="#000"/>
<rect x="1045" y="225" width="5" height="2" fill="#000"/>
<rect x="1055" y="175" width="1" height="25" fill="#000"/>
<rect x="1053" y="186" width="5" height="3" fill="#000"/>
<rect x="1054" y="187" width="3" height="1" fill="#fff"/>
<rect x="1063" y="186" width="1" height="17" fill="#000"/>
<rect x="1061" y="187" width="5" height="7" fill="#000"/>
<rect x="1062" y="188" width="3" height="5" fill="#fff"/>
<rect x="1071" y="173" width="1" height="23" fill="#000"/>
<rect x="1069" y="183" width="5" height="12" fill="#000"/>
<rect x="1079" y="184" width="1" height="20" fill="#000"/>
<rect x="1077" y="193" width="5" height="8" fill="#000"/>
<rect x="1087" y="213" width="1" height="41" fill="#000"/>
<rect x="1085" y="213" width="5" height="27" fill="#000"/>
<rect x="1095" y="235" width="1" height="30" fill="#000"/>
<rect x="1093" y="237" width="5" height="27" fill="#000"/>
<rect x="1103" y="241" width="1" height="18" fill="#000"/>
<rect x="1101" y="245" width="5" height="10" fill="#000"/>
<rect x="1111" y="216" width="1" height="24" fill="#000"/>
<rect x="1109" y="231" width="5" height="5" fill="#000"/>
<rect x="1110" y="232" width="3" height="3" fill="#fff"/>
<rect x="1119" y="216" width="1" height="24" fill="#000"/>
<rect x="1117" y="223" width="5" height="12" fill="#000"/>
<rect x="1118" y="224" width="3" height="10" fill="#fff"/>
<rect x="1127" y="217" width="1" height="51" fill="#000"/>
<rect x="1125" y="224" width="5" height="16" fill="#000"/>
<rect x="1126" y="225" width="3" height="14" fill="#fff"/>
<rect x="1135" y="211" width="1" height="19" fill="#000"/>
<rect x="1133" y="215" width="5" height="1" fill="#000"/>
<rect x="1143" y="213" width="1" height="27" fill="#000"/>
<rect x="1141" y="216" width="5" height="13" fill="#000"/>
<rect x="1142" y="217" width="3" height="11" fill="#fff"/>
<rect x="1151" y="224" width="1" height="21" fill="#000"/>
<rect x="1149" y="234" width="5" height="11" fill="#000"/>
<rect x="1150" y="235" width="3" height="9" fill="#fff"/>
<rect x="1159" y="195" width="1" height="24" fill="#000"/>
<rect x="1157" y="197" width="5" height="20" fill="#000"/>
<rect x="1158" y="198" width="3" height="18" fill="#fff"/>
<rect x="1167" y="209" width="1" height="39" fill="#000"/>
<rect x="1165" y="216" width="5" height="23" fill="#000"/>
<rect x="1175" y="227" width="1" height="20" fill="#000"/>
<rect x="1173" y="230" width="5" height="6" fill="#000"/>
<rect x="1174" y="231" width="3" height="4" fill="#fff"/>
<rect x="1183" y="201" width="1" height="25" fill="#000"/>
<rect x="1181" y="218" width="5" height="6" fill="#000"/>
<rect x="1191" y="213" width="1" height="12" fill="#000"/>
<rect x="1189" y="218" width="5" height="4" fill="#000"/>
<rect x="1190" y="219" width="3" height="2" fill="#fff"/>
<rect x="1199" y="232" width="1" height="16" fill="#000"/>
<rect x="1197" y="239" width="5" height="3" fill="#000"/>
<rect x="1207" y="246" width="1" height="37" fill="#000"/>
<rect x="1205" y="251" width="5" height="14" fill="#000"/>
<rect x="1215" y="252" width="1" height="19" fill="#000"/>
<rect x="1213" y="262" width="5" height="5" fill="#000"/>
<rect x="1214" y="263" width="3" height="3" fill="#fff"/>
<rect x="1223" y="278" width="1" height="29" fill="#000"/>
<rect x="1221" y="278" width="5" height="18" fill="#000"/>
<rect x="1231" y="302" width="1" height="27" fill="#000"/>
<rect x="1229" y="317" width="5" height="8" fill="#000"/>
<rect x="1239" y="370" width="1" height="18" fill="#000"/>
<rect x="1237" y="384" width="5" height="3" fill="#000"/>
<rect x="1238" y="385" width="3" height="1" fill="#fff"/>
<rect x="1247" y="405" width="1" height="54" fill="#000"/>
<rect x="1245" y="418" width="5" height="39" fill="#000"/>
<rect x="1255" y="456" width="1" height="75" fill="#000"/>
<rect x="1253" y="462" width="5" height="69" fill="#000"/>
<rect x="1254" y="463" width="3" height="67" fill="#fff"/>
<rect x="1263" y="462" width="1" height="31" fill="#000"/>
<rect x="1261" y="464" width="5" height="3" fill="#000"/>
<rect x="1262" y="465" width="3" height="1" fill="#fff"/>
<rect x="1271" y="436" width="1" height="37" fill="#000"/>
<rect x="1269" y="457" width="5" height="9" fill="#000"/>
<rect x="1270" y="458" width="3" height="7" fill="#fff"/>
<rect x="1279" y="439" width="1" height="37" fill="#000"/>
<rect x="1277" y="449" width="5" height="21" fill="#000"/>
<rect x="1287" y="458" width="1" height="42" fill="#000"/>
<rect x="1285" y="484" width="5" height="16" fill="#000"/>
<rect x="1295" y="502" width="1" height="35" fill="#000"/>
<rect x="1293" y="516" width="5" height="18" fill="#000"/>
<rect x="1303" y="491" width="1" height="54" fill="#000"/>
<rect x="1301" y="491" width="5" height="41" fill="#000"/>
<rect x="1311" y="507" width="1" height="62" fill="#000"/>
<rect x="1309" y="512" width="5" height="57" fill="#000"/>
<rect x="1310" y="513" width="3" height="55" fill="#fff"/>
<rect x="1319" y="483" width="1" height="47" fill="#000"/>
<rect x="1317" y="487" width="5" height="26" fill="#000"/>
<rect x="1318" y="488" width="3" height="24" fill="#fff"/>
<rect x="1327" y="432" width="1" height="42" fill="#000"/>
<rect x="1325" y="441" width="5" height="26" fill="#000"/>
<rect x="1326" y="442" width="3" height="24" fill="#fff"/>
<rect x="1335" y="432" width="1" height="22" fill="#000"/>
<rect x="1333" y="438" width="5" height="6" fill="#000"/>
<rect x="1334" y="439" width="3" height="4" fill="#fff"/>
<rect x="1343" y="433" width="1" height="25" fill="#000"/>
<rect x="1341" y="437" width="5" height="15" fill="#000"/>
<rect x="1342" y="438" width="3" height="13" fill="#fff"/>
<rect x="1351" y="433" width="1" height="35" fill="#000"/>
<rect x="1349" y="434" width="5" height="29" fill="#000"/>
<rect x="1359" y="441" width="1" height="30" fill="#000"/>
<rect x="1357" y="448" width="5" height="16" fill="#000"/>
<rect x="1358" y="449" width="3" height="14" fill="#fff"/>
<rect x="1367" y="515" width="1" height="8" fill="#000"/>
<rect x="1365" y="515" width="5" height="5" fill="#000"/>
<rect x="1366" y="516" width="3" height="3" fill="#fff"/>
</g>
<g shape-rendering="crispEdges">
<rect x="0" y="441" width="4" height="6" fill="#ff0000"/><rect x="0" y="443" width="2" height="2" fill="#fff"/>
<rect x="1621" y="441" width="6" height="6" fill="#ff0000"/><rect x="1623" y="443" width="2" height="2" fill="#fff"/>
<rect x="0" y="466" width="4" height="6" fill="#ff0000"/><rect x="0" y="468" width="2" height="2" fill="#fff"/>
<rect x="1621" y="466" width="6" height="6" fill="#ff0000"/><rect x="1623" y="468" width="2" height="2" fill="#fff"/>
<rect x="0" y="487" width="4" height="6" fill="#32cd32"/><rect x="0" y="485" width="2" height="6" fill="#000"/><rect x="0" y="486" width="1" height="4" fill="#fff"/>
<rect x="1621" y="487" width="6" height="6" fill="#32cd32"/><rect x="1623" y="489" width="2" height="2" fill="#fff"/>
<rect x="0" y="535" width="4" height="6" fill="#0000ff"/><rect x="0" y="537" width="2" height="2" fill="#fff"/>
<rect x="1621" y="535" width="6" height="6" fill="#0000ff"/><rect x="1623" y="537" width="2" height="2" fill="#fff"/>
<rect x="0" y="552" width="4" height="6" fill="#0000ff"/><rect x="0" y="554" width="2" height="2" fill="#fff"/>
<rect x="1621" y="552" width="6" height="6" fill="#0000ff"/><rect x="1623" y="554" width="2" height="2" fill="#fff"/>
</g>
<g shape-rendering="crispEdges">
<rect x="1303" y="484" width="109" height="13" fill="#00ff00"/>
<rect x="1432" y="490" width="10" height="1" fill="#ff0000"/>
<rect x="1439" y="488" width="3" height="4" fill="#ff0000"/><rect x="1440" y="489" width="1" height="2" fill="#fff"/>
<rect x="1442" y="474" width="100" height="33" fill="#ff0000"/><rect x="1443" y="475" width="98" height="31" fill="#fff"/>
</g>
<text x="1444.80" y="500.40" font-size="27.4" fill="#ff0000" textLength="94.30" lengthAdjust="spacingAndGlyphs" xml:space="preserve" >25657.7</text>
<polygon points="1375,30 1388,30 1381.5,35.5" fill="#c8c8c8"/>
<g shape-rendering="crispEdges" fill="#000">
<rect x="1628" y="51" width="2" height="1"/>
<rect x="1628" y="84" width="2" height="1"/>
<rect x="1628" y="117" width="2" height="1"/>
<rect x="1628" y="150" width="2" height="1"/>
<rect x="1628" y="183" width="2" height="1"/>
<rect x="1628" y="216" width="2" height="1"/>
<rect x="1628" y="249" width="2" height="1"/>
<rect x="1628" y="282" width="2" height="1"/>
<rect x="1628" y="315" width="2" height="1"/>
<rect x="1628" y="348" width="2" height="1"/>
<rect x="1628" y="381" width="2" height="1"/>
<rect x="1628" y="414" width="2" height="1"/>
<rect x="1628" y="447" width="2" height="1"/>
<rect x="1628" y="480" width="2" height="1"/>
<rect x="1628" y="546" width="2" height="1"/>
<rect x="1628" y="579" width="2" height="1"/>
</g>
<text x="1633.00" y="54.90" font-size="10" fill="#000" stroke="#000" stroke-width="0.22" textLength="33.00" lengthAdjust="spacingAndGlyphs" xml:space="preserve" >30380.0</text>
<text x="1633.00" y="87.90" font-size="10" fill="#000" stroke="#000" stroke-width="0.22" textLength="33.00" lengthAdjust="spacingAndGlyphs" xml:space="preserve" >30033.5</text>
<text x="1633.00" y="120.90" font-size="10" fill="#000" stroke="#000" stroke-width="0.22" textLength="33.00" lengthAdjust="spacingAndGlyphs" xml:space="preserve" >29676.5</text>
<text x="1633.00" y="153.90" font-size="10" fill="#000" stroke="#000" stroke-width="0.22" textLength="33.00" lengthAdjust="spacingAndGlyphs" xml:space="preserve" >29319.5</text>
<text x="1633.00" y="186.90" font-size="10" fill="#000" stroke="#000" stroke-width="0.22" textLength="33.00" lengthAdjust="spacingAndGlyphs" xml:space="preserve" >28962.5</text>
<text x="1633.00" y="219.90" font-size="10" fill="#000" stroke="#000" stroke-width="0.22" textLength="33.00" lengthAdjust="spacingAndGlyphs" xml:space="preserve" >28605.5</text>
<text x="1633.00" y="252.90" font-size="10" fill="#000" stroke="#000" stroke-width="0.22" textLength="33.00" lengthAdjust="spacingAndGlyphs" xml:space="preserve" >28248.5</text>
<text x="1633.00" y="285.90" font-size="10" fill="#000" stroke="#000" stroke-width="0.22" textLength="33.00" lengthAdjust="spacingAndGlyphs" xml:space="preserve" >27891.5</text>
<text x="1633.00" y="318.90" font-size="10" fill="#000" stroke="#000" stroke-width="0.22" textLength="33.00" lengthAdjust="spacingAndGlyphs" xml:space="preserve" >27545.0</text>
<text x="1633.00" y="351.90" font-size="10" fill="#000" stroke="#000" stroke-width="0.22" textLength="33.00" lengthAdjust="spacingAndGlyphs" xml:space="preserve" >27188.0</text>
<text x="1633.00" y="384.90" font-size="10" fill="#000" stroke="#000" stroke-width="0.22" textLength="33.00" lengthAdjust="spacingAndGlyphs" xml:space="preserve" >26831.0</text>
<text x="1633.00" y="417.90" font-size="10" fill="#000" stroke="#000" stroke-width="0.22" textLength="33.00" lengthAdjust="spacingAndGlyphs" xml:space="preserve" >26474.0</text>
<text x="1633.00" y="450.90" font-size="10" fill="#000" stroke="#000" stroke-width="0.22" textLength="33.00" lengthAdjust="spacingAndGlyphs" xml:space="preserve" >26117.0</text>
<text x="1633.00" y="483.90" font-size="10" fill="#000" stroke="#000" stroke-width="0.22" textLength="33.00" lengthAdjust="spacingAndGlyphs" xml:space="preserve" >25760.0</text>
<text x="1633.00" y="549.90" font-size="10" fill="#000" stroke="#000" stroke-width="0.22" textLength="33.00" lengthAdjust="spacingAndGlyphs" xml:space="preserve" >25046.0</text>
<text x="1633.00" y="582.90" font-size="10" fill="#000" stroke="#000" stroke-width="0.22" textLength="33.00" lengthAdjust="spacingAndGlyphs" xml:space="preserve" >24699.5</text>
<g shape-rendering="crispEdges">
<rect x="1629" y="438" width="41" height="11" fill="#ff0000"/>
<rect x="1629" y="463" width="41" height="11" fill="#ff0000"/>
<rect x="1629" y="484" width="41" height="11" fill="#32cd32"/>
<rect x="1629" y="532" width="41" height="11" fill="#0000ff"/>
<rect x="1629" y="549" width="41" height="11" fill="#0000ff"/>
<rect x="1629" y="510" width="41" height="11" fill="#000000"/>
</g>
<text x="1633.00" y="447.20" font-size="10" fill="#fff" stroke="#fff" stroke-width="0.22" textLength="33.00" lengthAdjust="spacingAndGlyphs" xml:space="preserve" >26152.5</text>
<text x="1633.00" y="472.20" font-size="10" fill="#fff" stroke="#fff" stroke-width="0.22" textLength="33.00" lengthAdjust="spacingAndGlyphs" xml:space="preserve" >25883.6</text>
<text x="1633.00" y="493.20" font-size="10" fill="#fff" stroke="#fff" stroke-width="0.22" textLength="33.00" lengthAdjust="spacingAndGlyphs" xml:space="preserve" >25657.7</text>
<text x="1633.00" y="541.20" font-size="10" fill="#fff" stroke="#fff" stroke-width="0.22" textLength="33.00" lengthAdjust="spacingAndGlyphs" xml:space="preserve" >25141.3</text>
<text x="1633.00" y="558.20" font-size="10" fill="#fff" stroke="#fff" stroke-width="0.22" textLength="33.00" lengthAdjust="spacingAndGlyphs" xml:space="preserve" >24953.4</text>
<text x="1633.00" y="519.20" font-size="10" fill="#fff" stroke="#fff" stroke-width="0.22" textLength="33.00" lengthAdjust="spacingAndGlyphs" xml:space="preserve" >25382.5</text>
<g shape-rendering="crispEdges" fill="#c0c0c0">
<rect x="7" y="654" width="1" height="6"/>
<rect x="15" y="651" width="1" height="9"/>
<rect x="23" y="654" width="1" height="6"/>
<rect x="31" y="656" width="1" height="4"/>
<rect x="39" y="659" width="1" height="1"/>
<rect x="47" y="659" width="1" height="3"/>
<rect x="55" y="659" width="1" height="9"/>
<rect x="63" y="659" width="1" height="12"/>
<rect x="71" y="659" width="1" height="14"/>
<rect x="79" y="659" width="1" height="18"/>
<rect x="87" y="659" width="1" height="20"/>
<rect x="95" y="659" width="1" height="17"/>
<rect x="103" y="659" width="1" height="24"/>
<rect x="111" y="659" width="1" height="29"/>
<rect x="119" y="659" width="1" height="27"/>
<rect x="127" y="659" width="1" height="22"/>
<rect x="135" y="659" width="1" height="18"/>
<rect x="143" y="659" width="1" height="8"/>
<rect x="159" y="652" width="1" height="8"/>
<rect x="167" y="650" width="1" height="10"/>
<rect x="175" y="644" width="1" height="16"/>
<rect x="183" y="638" width="1" height="22"/>
<rect x="191" y="634" width="1" height="26"/>
<rect x="199" y="629" width="1" height="31"/>
<rect x="207" y="623" width="1" height="37"/>
<rect x="215" y="622" width="1" height="38"/>
<rect x="223" y="621" width="1" height="39"/>
<rect x="231" y="620" width="1" height="40"/>
<rect x="239" y="615" width="1" height="45"/>
<rect x="247" y="611" width="1" height="49"/>
<rect x="255" y="609" width="1" height="51"/>
<rect x="263" y="607" width="1" height="53"/>
<rect x="271" y="602" width="1" height="58"/>
<rect x="279" y="601" width="1" height="59"/>
<rect x="287" y="600" width="1" height="60"/>
<rect x="295" y="600" width="1" height="60"/>
<rect x="303" y="598" width="1" height="62"/>
<rect x="311" y="598" width="1" height="62"/>
<rect x="319" y="595" width="1" height="65"/>
<rect x="327" y="595" width="1" height="65"/>
<rect x="335" y="600" width="1" height="60"/>
<rect x="343" y="600" width="1" height="60"/>
<rect x="351" y="602" width="1" height="58"/>
<rect x="359" y="601" width="1" height="59"/>
<rect x="367" y="600" width="1" height="60"/>
<rect x="375" y="598" width="1" height="62"/>
<rect x="383" y="596" width="1" height="64"/>
<rect x="391" y="596" width="1" height="64"/>
<rect x="399" y="598" width="1" height="62"/>
<rect x="407" y="600" width="1" height="60"/>
<rect x="415" y="602" width="1" height="58"/>
<rect x="423" y="603" width="1" height="57"/>
<rect x="431" y="604" width="1" height="56"/>
<rect x="439" y="604" width="1" height="56"/>
<rect x="447" y="608" width="1" height="52"/>
<rect x="455" y="617" width="1" height="43"/>
<rect x="463" y="621" width="1" height="39"/>
<rect x="471" y="621" width="1" height="39"/>
<rect x="479" y="622" width="1" height="38"/>
<rect x="487" y="623" width="1" height="37"/>
<rect x="495" y="622" width="1" height="38"/>
<rect x="503" y="619" width="1" height="41"/>
<rect x="511" y="615" width="1" height="45"/>
<rect x="519" y="615" width="1" height="45"/>
<rect x="527" y="617" width="1" height="43"/>
<rect x="535" y="620" width="1" height="40"/>
<rect x="543" y="628" width="1" height="32"/>
<rect x="551" y="635" width="1" height="25"/>
<rect x="559" y="638" width="1" height="22"/>
<rect x="567" y="641" width="1" height="19"/>
<rect x="575" y="640" width="1" height="20"/>
<rect x="583" y="634" width="1" height="26"/>
<rect x="591" y="629" width="1" height="31"/>
<rect x="599" y="622" width="1" height="38"/>
<rect x="607" y="617" width="1" height="43"/>
<rect x="615" y="613" width="1" height="47"/>
<rect x="623" y="609" width="1" height="51"/>
<rect x="631" y="607" width="1" height="53"/>
<rect x="639" y="609" width="1" height="51"/>
<rect x="647" y="611" width="1" height="49"/>
<rect x="655" y="613" width="1" height="47"/>
<rect x="663" y="613" width="1" height="47"/>
<rect x="671" y="613" width="1" height="47"/>
<rect x="679" y="615" width="1" height="45"/>
<rect x="687" y="618" width="1" height="42"/>
<rect x="695" y="622" width="1" height="38"/>
<rect x="703" y="629" width="1" height="31"/>
<rect x="711" y="635" width="1" height="25"/>
<rect x="719" y="638" width="1" height="22"/>
<rect x="727" y="642" width="1" height="18"/>
<rect x="735" y="644" width="1" height="16"/>
<rect x="743" y="643" width="1" height="17"/>
<rect x="751" y="652" width="1" height="8"/>
<rect x="759" y="658" width="1" height="2"/>
<rect x="767" y="659" width="1" height="5"/>
<rect x="775" y="659" width="1" height="19"/>
<rect x="783" y="659" width="1" height="26"/>
<rect x="791" y="659" width="1" height="37"/>
<rect x="799" y="659" width="1" height="42"/>
<rect x="807" y="659" width="1" height="46"/>
<rect x="815" y="659" width="1" height="52"/>
<rect x="823" y="659" width="1" height="57"/>
<rect x="831" y="659" width="1" height="61"/>
<rect x="839" y="659" width="1" height="63"/>
<rect x="847" y="659" width="1" height="67"/>
<rect x="855" y="659" width="1" height="69"/>
<rect x="863" y="659" width="1" height="71"/>
<rect x="871" y="659" width="1" height="71"/>
<rect x="879" y="659" width="1" height="71"/>
<rect x="887" y="659" width="1" height="74"/>
<rect x="895" y="659" width="1" height="76"/>
<rect x="903" y="659" width="1" height="78"/>
<rect x="911" y="659" width="1" height="79"/>
<rect x="919" y="659" width="1" height="77"/>
<rect x="927" y="659" width="1" height="74"/>
<rect x="935" y="659" width="1" height="64"/>
<rect x="943" y="659" width="1" height="54"/>
<rect x="951" y="659" width="1" height="51"/>
<rect x="959" y="659" width="1" height="48"/>
<rect x="967" y="659" width="1" height="46"/>
<rect x="975" y="659" width="1" height="43"/>
<rect x="983" y="659" width="1" height="37"/>
<rect x="991" y="659" width="1" height="25"/>
<rect x="999" y="659" width="1" height="11"/>
<rect x="1007" y="659" width="1" height="1"/>
<rect x="1015" y="654" width="1" height="6"/>
<rect x="1023" y="650" width="1" height="10"/>
<rect x="1031" y="648" width="1" height="12"/>
<rect x="1039" y="642" width="1" height="18"/>
<rect x="1047" y="638" width="1" height="22"/>
<rect x="1055" y="631" width="1" height="29"/>
<rect x="1063" y="626" width="1" height="34"/>
<rect x="1071" y="623" width="1" height="37"/>
<rect x="1079" y="622" width="1" height="38"/>
<rect x="1087" y="626" width="1" height="34"/>
<rect x="1095" y="632" width="1" height="28"/>
<rect x="1103" y="635" width="1" height="25"/>
<rect x="1111" y="636" width="1" height="24"/>
<rect x="1119" y="636" width="1" height="24"/>
<rect x="1127" y="637" width="1" height="23"/>
<rect x="1135" y="637" width="1" height="23"/>
<rect x="1143" y="637" width="1" height="23"/>
<rect x="1151" y="639" width="1" height="21"/>
<rect x="1159" y="637" width="1" height="23"/>
<rect x="1167" y="640" width="1" height="20"/>
<rect x="1175" y="642" width="1" height="18"/>
<rect x="1183" y="643" width="1" height="17"/>
<rect x="1191" y="643" width="1" height="17"/>
<rect x="1199" y="646" width="1" height="14"/>
<rect x="1207" y="651" width="1" height="9"/>
<rect x="1215" y="655" width="1" height="5"/>
<rect x="1223" y="659" width="1" height="1"/>
<rect x="1231" y="659" width="1" height="10"/>
<rect x="1239" y="659" width="1" height="23"/>
<rect x="1247" y="659" width="1" height="41"/>
<rect x="1255" y="659" width="1" height="55"/>
<rect x="1263" y="659" width="1" height="65"/>
<rect x="1271" y="659" width="1" height="72"/>
<rect x="1279" y="659" width="1" height="78"/>
<rect x="1287" y="659" width="1" height="85"/>
<rect x="1295" y="659" width="1" height="93"/>
<rect x="1303" y="659" width="1" height="98"/>
<rect x="1311" y="659" width="1" height="99"/>
<rect x="1319" y="659" width="1" height="97"/>
<rect x="1327" y="659" width="1" height="87"/>
<rect x="1335" y="659" width="1" height="80"/>
<rect x="1343" y="659" width="1" height="72"/>
<rect x="1351" y="659" width="1" height="68"/>
<rect x="1359" y="659" width="1" height="63"/>
<rect x="1367" y="659" width="1" height="65"/>
</g>
<path shape-rendering="crispEdges" fill="#ff0000" d="M335,598h3v1h-3zM348,598h3v1h-3zM354,598h3v1h-3zM360,598h3v1h-3zM366,598h3v1h-3zM372,598h3v1h-3zM378,598h2v1h-2zM391,598h3v1h-3zM397,598h3v1h-3zM403,598h3v1h-3zM409,598h3v1h-3zM415,598h3v1h-3zM421,598h3v1h-3zM427,598h3v1h-3zM433,598h3v1h-3zM261,617h3v1h-3zM506,617h3v1h-3zM709,617h2v1h-2zM512,618h3v1h-3zM518,618h3v1h-3zM524,618h3v1h-3zM530,618h3v1h-3zM536,618h3v1h-3zM640,618h3v1h-3zM994,705h2v1h-2zM584,629h3v1h-3zM615,629h3v1h-3zM1105,629h3v1h-3zM1111,629h3v1h-3zM1117,629h3v1h-3zM1123,629h3v1h-3zM1129,629h3v1h-3zM1220,644h2v1h-2zM274,612h3v1h-3zM482,612h3v1h-3zM659,612h3v1h-3zM690,612h3v1h-3zM35,647h2v1h-2zM200,647h2v1h-2zM771,647h2v1h-2zM1227,647h2v1h-2zM789,660h2v1h-2zM267,615h2v1h-2zM500,615h2v1h-2zM703,615h2v1h-2zM280,611h3v1h-3zM666,611h3v1h-3zM684,611h3v1h-3zM916,733h2v1h-2zM921,733h3v1h-3zM11,638h2v1h-2zM1075,638h2v1h-2zM1178,638h3v1h-3zM1184,638h3v1h-3zM1190,638h3v1h-3zM1196,638h2v1h-2zM602,631h3v1h-3zM1141,631h3v1h-3zM151,676h3v1h-3zM808,676h2v1h-2zM879,724h2v1h-2zM963,724h2v1h-2zM97,670h2v1h-2zM801,670h2v1h-2zM458,604h3v1h-3zM230,630h2v1h-2zM590,630h3v1h-3zM596,630h3v1h-3zM609,630h3v1h-3zM740,630h3v1h-3zM1094,630h2v1h-2zM1099,630h3v1h-3zM1135,630h3v1h-3zM90,667h2v1h-2zM243,624h2v1h-2zM566,624h3v1h-3zM628,624h2v1h-2zM727,624h2v1h-2zM866,719h2v1h-2zM211,640h2v1h-2zM1202,640h3v1h-3zM256,619h2v1h-2zM543,619h2v1h-2zM548,619h2v1h-2zM127,679h2v1h-2zM139,679h3v1h-3zM323,599h3v1h-3zM329,599h3v1h-3zM439,599h3v1h-3zM66,659h3v1h-3zM121,678h3v1h-3zM145,678h3v1h-3zM84,665h2v1h-2zM294,606h2v1h-2zM464,606h3v1h-3zM884,725h3v1h-3zM224,633h2v1h-2zM747,633h2v1h-2zM1087,633h2v1h-2zM1148,633h3v1h-3zM236,627h2v1h-2zM621,627h2v1h-2zM734,627h2v1h-2zM488,613h2v1h-2zM653,613h3v1h-3zM696,613h3v1h-3zM898,729h2v1h-2zM951,729h2v1h-2zM572,625h2v1h-2zM23,641h2v1h-2zM1208,641h3v1h-3zM1323,744h3v1h-3zM1029,675h2v1h-2zM1353,745h3v1h-3zM248,622h3v1h-3zM560,622h2v1h-2zM721,622h3v1h-3zM494,614h3v1h-3zM109,674h2v1h-2zM157,674h3v1h-3zM909,731h2v1h-2zM939,731h3v1h-3zM116,677h2v1h-2zM317,600h3v1h-3zM445,600h3v1h-3zM1154,634h3v1h-3zM634,621h2v1h-2zM299,605h2v1h-2zM796,666h2v1h-2zM1359,743h2v1h-2zM16,639h3v1h-3zM759,639h2v1h-2zM48,652h3v1h-3zM194,652h2v1h-2zM470,608h3v1h-3zM752,635h2v1h-2zM1081,635h3v1h-3zM1160,635h3v1h-3zM170,669h2v1h-2zM859,716h2v1h-2zM312,601h2v1h-2zM451,601h2v1h-2zM847,709h2v1h-2zM133,680h3v1h-3zM554,620h2v1h-2zM716,620h2v1h-2zM958,726h2v1h-2zM341,597h3v1h-3zM384,597h3v1h-3zM73,661h2v1h-2zM476,610h3v1h-3zM673,610h2v1h-2zM678,610h3v1h-3zM1341,747h3v1h-3zM4,637h3v1h-3zM1172,637h3v1h-3zM976,717h2v1h-2zM1214,642h2v1h-2zM1330,746h2v1h-2zM1335,746h3v1h-3zM1347,746h3v1h-3zM927,734h2v1h-2zM1317,740h2v1h-2zM206,643h2v1h-2zM765,643h2v1h-2zM934,732h2v1h-2zM42,650h2v1h-2zM854,713h2v1h-2zM646,616h2v1h-2zM871,721h3v1h-3zM969,721h2v1h-2zM55,655h2v1h-2zM903,730h2v1h-2zM945,730h3v1h-3zM218,636h2v1h-2zM1166,636h3v1h-3zM1058,649h2v1h-2zM60,657h3v1h-3zM1312,736h2v1h-2zM163,672h2v1h-2zM287,609h2v1h-2zM579,628h2v1h-2zM891,727h2v1h-2zM305,603h2v1h-2zM79,663h2v1h-2zM982,714h2v1h-2zM0,636h1v1h-1zM10,637h1v1h-1zM22,640h1v1h-1zM28,643h1v1h-1zM30,644h1v1h-1zM31,645h1v1h-1zM37,648h1v1h-1zM44,651h1v1h-1zM54,654h1v1h-1zM72,660h1v1h-1zM78,662h1v1h-1zM86,666h1v1h-1zM92,668h1v1h-1zM96,669h1v1h-1zM102,671h1v1h-1zM103,672h1v1h-1zM105,673h1v1h-1zM111,675h1v1h-1zM115,676h1v1h-1zM129,680h1v1h-1zM166,671h1v1h-1zM172,668h1v1h-1zM176,666h1v1h-1zM177,665h1v1h-1zM178,664h1v1h-1zM181,661h1v1h-1zM182,660h1v1h-1zM183,659h1v1h-1zM187,657h1v1h-1zM188,656h1v1h-1zM189,655h1v1h-1zM193,653h1v1h-1zM199,648h1v1h-1zM205,644h1v1h-1zM213,639h1v1h-1zM220,635h1v1h-1zM226,632h1v1h-1zM232,629h1v1h-1zM238,626h1v1h-1zM242,625h1v1h-1zM255,620h1v1h-1zM269,614h1v1h-1zM286,610h1v1h-1zM293,607h1v1h-1zM301,604h1v1h-1zM307,602h1v1h-1zM311,602h1v1h-1zM380,597h1v1h-1zM453,602h1v1h-1zM490,614h1v1h-1zM502,616h1v1h-1zM542,618h1v1h-1zM550,620h1v1h-1zM556,621h1v1h-1zM562,623h1v1h-1zM574,626h1v1h-1zM578,627h1v1h-1zM624,626h1v1h-1zM630,623h1v1h-1zM636,620h1v1h-1zM648,615h1v1h-1zM672,611h1v1h-1zM705,616h1v1h-1zM711,618h1v1h-1zM715,619h1v1h-1zM729,625h1v1h-1zM733,626h1v1h-1zM746,632h1v1h-1zM754,636h1v1h-1zM761,640h1v1h-1zM767,644h1v1h-1zM773,648h1v1h-1zM777,651h1v1h-1zM778,652h1v1h-1zM779,653h1v1h-1zM783,655h1v1h-1zM784,656h1v1h-1zM785,657h1v1h-1zM791,661h1v1h-1zM795,665h1v1h-1zM803,671h1v1h-1zM807,675h1v1h-1zM812,680h1v1h-1zM813,681h1v1h-1zM814,682h1v1h-1zM818,685h1v1h-1zM819,686h1v1h-1zM820,687h1v1h-1zM824,690h1v1h-1zM825,691h1v1h-1zM826,692h1v1h-1zM829,695h1v1h-1zM830,696h1v1h-1zM831,697h1v1h-1zM835,700h1v1h-1zM836,701h1v1h-1zM837,702h1v1h-1zM841,705h1v1h-1zM842,706h1v1h-1zM843,707h1v1h-1zM849,710h1v1h-1zM853,712h1v1h-1zM861,717h1v1h-1zM865,718h1v1h-1zM878,723h1v1h-1zM890,726h1v1h-1zM897,728h1v1h-1zM905,731h1v1h-1zM911,732h1v1h-1zM915,732h1v1h-1zM929,733h1v1h-1zM933,733h1v1h-1zM953,728h1v1h-1zM957,727h1v1h-1zM965,723h1v1h-1zM971,720h1v1h-1zM975,718h1v1h-1zM981,715h1v1h-1zM987,711h1v1h-1zM988,710h1v1h-1zM989,709h1v1h-1zM993,706h1v1h-1zM999,700h1v2h-1zM1000,699h1v1h-1zM1004,696h1v1h-1zM1005,695h1v1h-1zM1006,694h1v1h-1zM1010,691h1v1h-1zM1011,690h1v1h-1zM1012,689h1v1h-1zM1016,686h1v1h-1zM1017,685h1v1h-1zM1018,684h1v1h-1zM1022,681h1v1h-1zM1023,680h1v1h-1zM1024,679h1v1h-1zM1028,676h1v1h-1zM1034,671h1v1h-1zM1035,670h1v1h-1zM1036,669h1v1h-1zM1040,666h1v1h-1zM1041,665h1v1h-1zM1042,664h1v1h-1zM1046,661h1v1h-1zM1047,660h1v1h-1zM1048,659h1v1h-1zM1051,655h1v1h-1zM1052,654h1v1h-1zM1053,653h1v1h-1zM1057,650h1v1h-1zM1063,646h1v1h-1zM1064,645h1v1h-1zM1065,644h1v1h-1zM1069,642h1v1h-1zM1070,641h1v1h-1zM1071,640h1v1h-1zM1077,637h1v1h-1zM1089,632h1v1h-1zM1093,631h1v1h-1zM1198,639h1v1h-1zM1216,643h1v1h-1zM1222,645h1v1h-1zM1229,648h1v1h-1zM1233,650h1v1h-1zM1234,651h1v1h-1zM1235,652h1v1h-1zM1239,654h1v1h-1zM1240,655h1v1h-1zM1241,656h1v1h-1zM1245,659h1v1h-1zM1246,660h1v1h-1zM1247,661h1v1h-1zM1251,664h1v1h-1zM1252,665h1v1h-1zM1253,666h1v1h-1zM1256,670h1v1h-1zM1257,671h1v1h-1zM1258,672h1v1h-1zM1261,676h1v1h-1zM1262,677h1v1h-1zM1263,678h1v1h-1zM1266,682h1v1h-1zM1267,683h1v1h-1zM1268,684h1v1h-1zM1272,687h1v1h-1zM1273,688h1v1h-1zM1274,689h1v1h-1zM1277,693h1v2h-1zM1278,695h1v1h-1zM1281,699h1v1h-1zM1282,700h1v1h-1zM1283,701h1v1h-1zM1286,705h1v2h-1zM1287,707h1v1h-1zM1290,711h1v1h-1zM1291,712h1v1h-1zM1292,713h1v1h-1zM1295,717h1v1h-1zM1296,718h1v1h-1zM1297,719h1v1h-1zM1300,723h1v1h-1zM1301,724h1v1h-1zM1302,725h1v1h-1zM1305,729h1v1h-1zM1306,730h1v1h-1zM1307,731h1v1h-1zM1311,735h1v1h-1zM1319,741h1v1h-1zM1329,745h1v1h-1zM1361,742h1v1h-1zM1365,741h1v1h-1zM1366,740h1v1h-1z"/>
<text x="3.70" y="597.40" font-size="10" fill="#000" stroke="#000" stroke-width="0.22" textLength="132.80" lengthAdjust="spacingAndGlyphs" xml:space="preserve" >MACD(12,26,9) -514.85 -639.86</text>
<g shape-rendering="crispEdges" fill="#000">
<rect x="1628" y="586" width="2" height="1"/>
<rect x="1628" y="659" width="2" height="1"/>
<rect x="1628" y="765" width="2" height="1"/>
</g>
<text x="1631.00" y="595.40" font-size="10" fill="#000" stroke="#000" stroke-width="0.22" textLength="28.20" lengthAdjust="spacingAndGlyphs" xml:space="preserve" >576.04</text>
<text x="1631.00" y="663.30" font-size="10" fill="#000" stroke="#000" stroke-width="0.22" textLength="18.00" lengthAdjust="spacingAndGlyphs" xml:space="preserve" >0.00</text>
<text x="1631.00" y="764.40" font-size="10" fill="#000" stroke="#000" stroke-width="0.22" textLength="26.50" lengthAdjust="spacingAndGlyphs" xml:space="preserve" >-847.3</text>
<g shape-rendering="crispEdges" stroke="#c0c0c0" stroke-width="1" stroke-dasharray="3,3">
<line x1="2" y1="802.5" x2="1627" y2="802.5"/>
<line x1="2" y1="849.5" x2="1627" y2="849.5"/>
<line x1="2" y1="905.5" x2="1627" y2="905.5"/>
</g>
<path shape-rendering="crispEdges" fill="#1e90ff" d="M8,847h2v1h-2zM564,847h4v1h-4zM1103,847h2v1h-2zM1167,847h5v1h-5zM272,819h2v1h-2zM302,819h7v1h-7zM312,819h2v1h-2zM378,819h7v1h-7zM437,819h3v1h-3zM602,819h7v1h-7zM156,835h2v1h-2zM188,835h2v1h-2zM193,835h2v1h-2zM215,835h9v1h-9zM335,835h2v1h-2zM476,835h2v1h-2zM482,835h2v1h-2zM527,835h4v1h-4zM143,837h7v1h-7zM152,837h2v1h-2zM1133,837h9v1h-9zM23,852h10v1h-10zM94,852h2v1h-2zM982,852h2v1h-2zM1200,852h2v1h-2zM125,849h2v1h-2zM557,849h2v1h-2zM318,815h5v1h-5zM620,815h3v1h-3zM624,815h2v1h-2zM206,828h2v1h-2zM497,828h2v1h-2zM661,828h2v1h-2zM1073,828h2v1h-2zM62,859h11v1h-11zM86,859h2v1h-2zM190,836h3v1h-3zM478,836h4v1h-4zM531,836h4v1h-4zM1034,836h2v1h-2zM204,829h2v1h-2zM208,829h2v1h-2zM520,829h2v1h-2zM646,829h2v1h-2zM999,829h3v1h-3zM1076,829h2v1h-2zM202,830h2v1h-2zM348,830h2v1h-2zM494,830h2v1h-2zM644,830h2v1h-2zM648,830h2v1h-2zM997,830h2v1h-2zM1002,830h3v1h-3zM1078,830h2v1h-2zM242,825h4v1h-4zM259,825h5v1h-5zM359,825h2v1h-2zM401,825h2v1h-2zM416,825h2v1h-2zM587,825h2v1h-2zM1065,825h2v1h-2zM239,824h3v1h-3zM279,824h12v1h-12zM361,824h4v1h-4zM391,824h10v1h-10zM501,824h2v1h-2zM589,824h3v1h-3zM1055,824h10v1h-10zM57,861h2v1h-2zM75,861h2v1h-2zM82,861h2v1h-2zM761,861h2v1h-2zM973,861h3v1h-3zM830,879h2v1h-2zM867,879h2v1h-2zM873,879h2v1h-2zM920,879h3v1h-3zM158,834h2v1h-2zM175,834h4v1h-4zM224,834h3v1h-3zM484,834h4v1h-4zM680,834h9v1h-9zM265,823h2v1h-2zM277,823h2v1h-2zM291,823h5v1h-5zM365,823h4v1h-4zM389,823h2v1h-2zM420,823h2v1h-2zM503,823h2v1h-2zM592,823h2v1h-2zM103,867h5v1h-5zM1348,867h2v1h-2zM1023,839h5v1h-5zM1117,839h7v1h-7zM1129,839h2v1h-2zM765,864h2v1h-2zM1328,864h10v1h-10zM1358,864h2v1h-2zM784,871h2v1h-2zM802,871h7v1h-7zM246,826h13v1h-13zM357,826h2v1h-2zM404,826h2v1h-2zM410,826h6v1h-6zM585,826h2v1h-2zM666,826h7v1h-7zM1068,826h2v1h-2zM693,840h2v1h-2zM1028,840h4v1h-4zM1115,840h2v1h-2zM1124,840h5v1h-5zM895,887h11v1h-11zM60,860h2v1h-2zM73,860h2v1h-2zM84,860h2v1h-2zM757,860h4v1h-4zM268,820h2v1h-2zM300,820h2v1h-2zM309,820h3v1h-3zM373,820h5v1h-5zM385,820h2v1h-2zM435,820h2v1h-2zM598,820h4v1h-4zM127,848h9v1h-9zM559,848h4v1h-4zM1100,848h3v1h-3zM200,831h2v1h-2zM492,831h2v1h-2zM641,831h2v1h-2zM1005,831h11v1h-11zM1039,831h4v1h-4zM1294,900h10v1h-10zM198,832h2v1h-2zM490,832h2v1h-2zM639,832h2v1h-2zM1044,832h4v1h-4zM150,838h2v1h-2zM1142,838h3v1h-3zM892,886h3v1h-3zM45,854h4v1h-4zM544,854h8v1h-8zM709,854h4v1h-4zM432,821h3v1h-3zM508,821h3v1h-3zM596,821h2v1h-2zM1247,894h18v1h-18zM1281,894h2v1h-2zM55,862h2v1h-2zM77,862h2v1h-2zM80,862h2v1h-2zM953,862h10v1h-10zM971,862h2v1h-2zM1219,862h2v1h-2zM751,863h3v1h-3zM951,863h2v1h-2zM963,863h4v1h-4zM968,863h3v1h-3zM1338,863h7v1h-7zM296,822h3v1h-3zM369,822h2v1h-2zM422,822h10v1h-10zM505,822h3v1h-3zM823,878h7v1h-7zM832,878h4v1h-4zM869,878h4v1h-4zM924,878h3v1h-3zM12,844h2v1h-2zM461,844h2v1h-2zM1180,844h5v1h-5zM108,866h4v1h-4zM120,853h2v1h-2zM552,853h2v1h-2zM788,875h2v1h-2zM813,875h2v1h-2zM910,889h2v1h-2zM37,856h2v1h-2zM41,856h2v1h-2zM1204,856h2v1h-2zM39,857h2v1h-2zM1212,857h4v1h-4zM736,845h2v1h-2zM1177,845h3v1h-3zM344,827h2v1h-2zM406,827h4v1h-4zM583,827h2v1h-2zM663,827h3v1h-3zM1070,827h3v1h-3zM1290,898h2v1h-2zM720,846h2v1h-2zM734,846h2v1h-2zM1172,846h5v1h-5zM741,841h3v1h-3zM1112,841h3v1h-3zM179,833h7v1h-7zM196,833h2v1h-2zM228,833h4v1h-4zM471,833h3v1h-3zM488,833h2v1h-2zM653,833h2v1h-2zM1268,892h8v1h-8zM43,855h2v1h-2zM1285,896h2v1h-2zM729,850h2v1h-2zM941,850h2v1h-2zM1096,850h3v1h-3zM844,881h2v1h-2zM851,881h2v1h-2zM862,881h2v1h-2zM877,881h2v1h-2zM1207,858h4v1h-4zM704,851h2v1h-2zM1110,842h2v1h-2zM1188,842h4v1h-4zM609,818h3v1h-3zM630,818h2v1h-2zM890,885h2v1h-2zM14,843h2v1h-2zM1185,843h3v1h-3zM819,877h4v1h-4zM836,877h5v1h-5zM906,888h4v1h-4zM886,884h4v1h-4zM1287,897h3v1h-3zM853,880h9v1h-9zM864,880h3v1h-3zM875,880h2v1h-2zM848,882h3v1h-3zM879,882h4v1h-4zM798,872h4v1h-4zM809,872h2v1h-2zM792,876h2v1h-2zM815,876h4v1h-4zM883,883h3v1h-3zM1265,893h3v1h-3zM1276,893h5v1h-5zM1308,893h2v1h-2zM1292,899h2v1h-2zM316,816h2v1h-2zM323,816h3v1h-3zM617,816h2v1h-2zM1356,865h2v1h-2zM1283,895h2v1h-2zM1225,868h2v1h-2zM1352,868h2v1h-2zM612,817h5v1h-5zM628,817h2v1h-2zM0,857h1v1h-1zM1,856h1v1h-1zM2,855h1v1h-1zM3,853h1v2h-1zM4,852h1v1h-1zM5,851h1v1h-1zM6,849h1v2h-1zM7,848h1v1h-1zM10,846h1v1h-1zM11,845h1v1h-1zM16,844h1v1h-1zM17,845h1v1h-1zM18,846h1v1h-1zM19,847h1v1h-1zM20,848h1v1h-1zM21,849h1v2h-1zM22,851h1v1h-1zM33,853h1v1h-1zM34,854h1v1h-1zM36,855h1v1h-1zM49,855h1v1h-1zM50,856h1v1h-1zM51,857h1v2h-1zM52,859h1v1h-1zM53,860h1v1h-1zM54,861h1v1h-1zM79,863h1v1h-1zM88,858h1v1h-1zM89,857h1v1h-1zM90,856h1v1h-1zM91,855h1v1h-1zM92,854h1v1h-1zM93,853h1v1h-1zM95,851h1v1h-1zM96,853h1v2h-1zM97,855h1v2h-1zM98,857h1v2h-1zM99,859h1v2h-1zM100,861h1v2h-1zM101,863h1v2h-1zM102,865h1v2h-1zM103,868h1v1h-1zM112,864h1v2h-1zM113,863h1v1h-1zM114,861h1v2h-1zM115,860h1v1h-1zM116,858h1v2h-1zM117,857h1v1h-1zM118,855h1v2h-1zM119,854h1v1h-1zM122,852h1v1h-1zM123,851h1v1h-1zM124,850h1v1h-1zM136,846h1v2h-1zM137,845h1v1h-1zM138,843h1v2h-1zM139,842h1v1h-1zM140,840h1v2h-1zM141,839h1v1h-1zM142,838h1v1h-1zM154,836h1v1h-1zM160,835h1v1h-1zM161,836h1v1h-1zM162,837h1v1h-1zM163,838h1v1h-1zM164,839h1v1h-1zM165,840h1v2h-1zM166,842h1v1h-1zM167,843h1v1h-1zM168,842h1v1h-1zM169,841h1v1h-1zM170,840h1v1h-1zM171,838h1v2h-1zM172,837h1v1h-1zM173,836h1v1h-1zM174,835h1v1h-1zM186,834h1v1h-1zM195,834h1v1h-1zM210,830h1v1h-1zM211,831h1v1h-1zM212,832h1v1h-1zM213,833h1v1h-1zM214,834h1v1h-1zM232,832h1v1h-1zM233,831h1v1h-1zM234,830h1v1h-1zM235,828h1v2h-1zM236,827h1v1h-1zM237,826h1v1h-1zM238,825h1v1h-1zM264,824h1v1h-1zM267,821h1v2h-1zM270,819h1v1h-1zM271,818h1v1h-1zM274,820h1v1h-1zM275,821h1v1h-1zM276,822h1v1h-1zM299,821h1v1h-1zM314,818h1v1h-1zM315,817h1v1h-1zM326,817h1v1h-1zM327,818h1v1h-1zM328,819h1v2h-1zM329,821h1v2h-1zM330,823h1v3h-1zM331,826h1v2h-1zM332,828h1v3h-1zM333,831h1v2h-1zM334,833h1v2h-1zM335,836h1v1h-1zM337,833h1v2h-1zM338,832h1v1h-1zM339,831h1v1h-1zM340,830h1v1h-1zM341,828h1v2h-1zM342,827h1v1h-1zM343,826h1v1h-1zM346,828h1v1h-1zM347,829h1v1h-1zM350,831h1v1h-1zM351,832h1v1h-1zM352,831h1v1h-1zM353,830h1v1h-1zM354,829h1v1h-1zM355,828h1v1h-1zM356,827h1v1h-1zM372,821h1v1h-1zM387,821h1v1h-1zM388,822h1v1h-1zM418,824h1v1h-1zM440,820h1v2h-1zM441,822h1v2h-1zM442,824h1v2h-1zM443,826h1v2h-1zM444,828h1v2h-1zM445,830h1v2h-1zM446,832h1v2h-1zM447,834h1v1h-1zM448,835h1v3h-1zM449,838h1v1h-1zM450,839h1v3h-1zM451,842h1v1h-1zM452,843h1v3h-1zM453,846h1v1h-1zM454,847h1v3h-1zM455,850h1v1h-1zM456,849h1v1h-1zM457,848h1v1h-1zM458,847h1v1h-1zM459,846h1v1h-1zM460,845h1v1h-1zM463,843h1v1h-1zM464,841h1v2h-1zM465,840h1v1h-1zM466,839h1v1h-1zM467,837h1v2h-1zM468,836h1v1h-1zM469,835h1v1h-1zM470,834h1v1h-1zM474,834h1v1h-1zM496,829h1v1h-1zM499,826h1v2h-1zM500,825h1v1h-1zM511,820h1v1h-1zM512,821h1v1h-1zM513,822h1v1h-1zM514,823h1v1h-1zM515,824h1v1h-1zM516,825h1v1h-1zM517,826h1v1h-1zM518,827h1v1h-1zM519,828h1v1h-1zM522,830h1v1h-1zM523,831h1v1h-1zM524,832h1v1h-1zM525,833h1v1h-1zM526,834h1v1h-1zM535,837h1v2h-1zM536,839h1v2h-1zM537,841h1v2h-1zM538,843h1v2h-1zM539,845h1v2h-1zM540,847h1v2h-1zM541,849h1v2h-1zM542,851h1v2h-1zM543,853h1v1h-1zM554,852h1v1h-1zM555,851h1v1h-1zM556,850h1v1h-1zM568,846h1v1h-1zM569,844h1v2h-1zM570,843h1v1h-1zM571,842h1v1h-1zM572,841h1v1h-1zM573,840h1v1h-1zM574,839h1v1h-1zM575,838h1v1h-1zM576,836h1v2h-1zM577,835h1v1h-1zM578,834h1v1h-1zM579,832h1v2h-1zM580,831h1v1h-1zM581,830h1v1h-1zM582,828h1v2h-1zM594,822h1v1h-1zM623,814h1v1h-1zM626,816h1v1h-1zM632,819h1v2h-1zM633,821h1v2h-1zM634,823h1v2h-1zM635,825h1v1h-1zM636,826h1v2h-1zM637,828h1v2h-1zM638,830h1v2h-1zM650,831h1v1h-1zM652,832h1v1h-1zM655,834h1v1h-1zM656,833h1v1h-1zM657,832h1v1h-1zM658,831h1v1h-1zM659,830h1v1h-1zM660,829h1v1h-1zM673,827h1v2h-1zM674,829h1v1h-1zM675,830h1v1h-1zM676,831h1v1h-1zM677,832h1v2h-1zM678,834h1v1h-1zM679,835h1v1h-1zM689,835h1v1h-1zM690,836h1v1h-1zM691,837h1v2h-1zM692,839h1v1h-1zM695,841h1v1h-1zM696,842h1v1h-1zM697,843h1v2h-1zM698,845h1v1h-1zM699,846h1v1h-1zM700,847h1v1h-1zM701,848h1v1h-1zM702,849h1v1h-1zM703,850h1v1h-1zM706,852h1v1h-1zM708,853h1v1h-1zM713,852h1v2h-1zM714,851h1v1h-1zM715,850h1v1h-1zM716,849h1v1h-1zM717,847h1v2h-1zM718,846h1v1h-1zM719,845h1v1h-1zM722,847h1v1h-1zM723,848h1v1h-1zM724,849h1v1h-1zM725,850h1v1h-1zM726,851h1v1h-1zM727,852h1v1h-1zM728,851h1v1h-1zM731,849h1v1h-1zM732,848h1v1h-1zM733,847h1v1h-1zM738,844h1v1h-1zM739,843h1v1h-1zM740,842h1v1h-1zM743,840h1v1h-1zM744,842h1v3h-1zM745,845h1v3h-1zM746,848h1v3h-1zM747,851h1v3h-1zM748,854h1v3h-1zM749,857h1v3h-1zM750,860h1v3h-1zM751,864h1v1h-1zM754,862h1v1h-1zM756,861h1v1h-1zM763,862h1v1h-1zM764,863h1v1h-1zM767,865h1v1h-1zM768,866h1v2h-1zM769,868h1v2h-1zM770,870h1v2h-1zM771,872h1v1h-1zM772,873h1v2h-1zM773,875h1v2h-1zM774,877h1v2h-1zM775,879h1v1h-1zM776,878h1v1h-1zM777,877h1v1h-1zM778,876h1v1h-1zM779,874h1v2h-1zM780,873h1v1h-1zM781,872h1v1h-1zM782,871h1v1h-1zM783,870h1v1h-1zM786,872h1v1h-1zM787,873h1v2h-1zM790,876h1v1h-1zM791,877h1v1h-1zM794,875h1v1h-1zM796,874h1v1h-1zM797,873h1v1h-1zM811,873h1v1h-1zM812,874h1v1h-1zM841,878h1v1h-1zM842,879h1v1h-1zM843,880h1v1h-1zM846,882h1v1h-1zM847,883h1v1h-1zM912,888h1v1h-1zM913,886h1v2h-1zM914,885h1v1h-1zM915,884h1v1h-1zM916,883h1v1h-1zM917,882h1v1h-1zM918,881h1v1h-1zM919,880h1v1h-1zM927,876h1v2h-1zM928,873h1v3h-1zM929,871h1v2h-1zM930,868h1v3h-1zM931,865h1v3h-1zM932,862h1v3h-1zM933,860h1v2h-1zM934,857h1v3h-1zM935,856h1v1h-1zM936,855h1v1h-1zM937,854h1v1h-1zM938,853h1v1h-1zM939,852h1v1h-1zM940,851h1v1h-1zM943,849h1v1h-1zM944,850h1v2h-1zM945,852h1v2h-1zM946,854h1v2h-1zM947,856h1v1h-1zM948,857h1v2h-1zM949,859h1v2h-1zM950,861h1v2h-1zM967,864h1v1h-1zM976,860h1v1h-1zM977,858h1v2h-1zM978,857h1v1h-1zM979,856h1v1h-1zM980,855h1v1h-1zM981,853h1v2h-1zM984,849h1v3h-1zM985,848h1v1h-1zM986,845h1v3h-1zM987,844h1v1h-1zM988,841h1v3h-1zM989,840h1v1h-1zM990,837h1v3h-1zM991,836h1v1h-1zM992,835h1v1h-1zM993,834h1v1h-1zM994,833h1v1h-1zM995,832h1v1h-1zM996,831h1v1h-1zM1016,832h1v1h-1zM1017,833h1v1h-1zM1018,834h1v1h-1zM1019,835h1v1h-1zM1020,836h1v1h-1zM1021,837h1v1h-1zM1022,838h1v1h-1zM1032,839h1v1h-1zM1033,837h1v2h-1zM1036,835h1v1h-1zM1037,833h1v2h-1zM1038,832h1v1h-1zM1048,831h1v1h-1zM1049,830h1v1h-1zM1050,829h1v1h-1zM1051,828h1v1h-1zM1052,827h1v1h-1zM1053,826h1v1h-1zM1054,825h1v1h-1zM1080,831h1v2h-1zM1081,833h1v2h-1zM1082,835h1v2h-1zM1083,837h1v1h-1zM1084,838h1v2h-1zM1085,840h1v2h-1zM1086,842h1v1h-1zM1087,843h1v1h-1zM1088,844h1v1h-1zM1089,845h1v1h-1zM1090,846h1v1h-1zM1091,847h1v1h-1zM1092,848h1v1h-1zM1093,849h1v1h-1zM1094,850h1v1h-1zM1095,851h1v1h-1zM1099,849h1v1h-1zM1105,846h1v1h-1zM1106,845h1v1h-1zM1108,844h1v1h-1zM1109,843h1v1h-1zM1132,838h1v1h-1zM1145,839h1v1h-1zM1146,840h1v1h-1zM1147,841h1v1h-1zM1148,842h1v1h-1zM1149,843h1v1h-1zM1150,844h1v1h-1zM1151,845h1v1h-1zM1152,843h1v2h-1zM1153,842h1v1h-1zM1154,841h1v1h-1zM1155,839h1v2h-1zM1156,838h1v1h-1zM1157,837h1v1h-1zM1158,835h1v2h-1zM1159,834h1v1h-1zM1160,835h1v2h-1zM1161,837h1v2h-1zM1162,839h1v2h-1zM1163,841h1v1h-1zM1164,842h1v2h-1zM1165,844h1v1h-1zM1166,846h1v1h-1zM1192,843h1v1h-1zM1193,844h1v1h-1zM1194,845h1v1h-1zM1195,846h1v1h-1zM1196,847h1v1h-1zM1197,848h1v2h-1zM1198,850h1v1h-1zM1199,851h1v1h-1zM1202,853h1v1h-1zM1203,854h1v2h-1zM1206,857h1v1h-1zM1216,858h1v1h-1zM1217,859h1v2h-1zM1218,861h1v1h-1zM1221,863h1v2h-1zM1222,865h1v1h-1zM1223,866h1v1h-1zM1224,867h1v1h-1zM1227,869h1v1h-1zM1228,870h1v1h-1zM1229,871h1v1h-1zM1230,872h1v1h-1zM1231,873h1v1h-1zM1232,874h1v1h-1zM1233,875h1v1h-1zM1234,876h1v2h-1zM1235,878h1v1h-1zM1236,879h1v2h-1zM1237,881h1v1h-1zM1238,882h1v2h-1zM1239,884h1v1h-1zM1240,885h1v1h-1zM1241,886h1v2h-1zM1242,888h1v1h-1zM1243,889h1v1h-1zM1244,890h1v1h-1zM1245,891h1v2h-1zM1246,893h1v1h-1zM1304,898h1v2h-1zM1305,897h1v1h-1zM1306,896h1v1h-1zM1307,894h1v2h-1zM1310,891h1v2h-1zM1311,890h1v1h-1zM1312,889h1v1h-1zM1313,888h1v1h-1zM1314,887h1v1h-1zM1315,885h1v2h-1zM1316,884h1v1h-1zM1317,883h1v1h-1zM1318,882h1v1h-1zM1319,880h1v2h-1zM1320,878h1v2h-1zM1321,877h1v1h-1zM1322,875h1v1h-1zM1323,872h1v3h-1zM1324,870h1v2h-1zM1325,868h1v2h-1zM1326,866h1v2h-1zM1327,865h1v1h-1zM1345,864h1v1h-1zM1346,865h1v1h-1zM1347,866h1v1h-1zM1350,868h1v1h-1zM1351,869h1v1h-1zM1354,867h1v1h-1zM1355,866h1v1h-1zM1360,865h1v2h-1zM1361,867h1v2h-1zM1362,869h1v1h-1zM1363,870h1v2h-1zM1364,872h1v1h-1zM1365,873h1v2h-1zM1366,875h1v1h-1zM1367,876h1v1h-1z"/>
<text x="3.70" y="782.20" font-size="10" fill="#000" stroke="#000" stroke-width="0.22" textLength="67.00" lengthAdjust="spacingAndGlyphs" xml:space="preserve" >RSI(14) 32.4802</text>
<text x="1631.00" y="780.00" font-size="10" fill="#000" stroke="#000" stroke-width="0.22" textLength="15.30" lengthAdjust="spacingAndGlyphs" xml:space="preserve" >100</text>
<text x="1631.00" y="806.60" font-size="10" fill="#000" stroke="#000" stroke-width="0.22" textLength="10.20" lengthAdjust="spacingAndGlyphs" xml:space="preserve" >80</text>
<text x="1631.00" y="853.30" font-size="10" fill="#000" stroke="#000" stroke-width="0.22" textLength="10.20" lengthAdjust="spacingAndGlyphs" xml:space="preserve" >50</text>
<text x="1631.00" y="909.10" font-size="10" fill="#000" stroke="#000" stroke-width="0.22" textLength="10.20" lengthAdjust="spacingAndGlyphs" xml:space="preserve" >15</text>
<text x="1631.00" y="926.20" font-size="10" fill="#000" stroke="#000" stroke-width="0.22" textLength="5.10" lengthAdjust="spacingAndGlyphs" xml:space="preserve" >0</text>
<g shape-rendering="crispEdges" fill="#000">
<rect x="1628" y="771" width="1" height="1"/>
<rect x="63" y="930" width="1" height="3"/>
<rect x="127" y="930" width="1" height="3"/>
<rect x="191" y="930" width="1" height="3"/>
<rect x="255" y="930" width="1" height="3"/>
<rect x="319" y="930" width="1" height="3"/>
<rect x="383" y="930" width="1" height="3"/>
<rect x="447" y="930" width="1" height="3"/>
<rect x="511" y="930" width="1" height="3"/>
<rect x="575" y="930" width="1" height="3"/>
<rect x="639" y="930" width="1" height="3"/>
<rect x="703" y="930" width="1" height="3"/>
<rect x="767" y="930" width="1" height="3"/>
<rect x="831" y="930" width="1" height="3"/>
<rect x="895" y="930" width="1" height="3"/>
<rect x="959" y="930" width="1" height="3"/>
<rect x="1023" y="930" width="1" height="3"/>
<rect x="1087" y="930" width="1" height="3"/>
<rect x="1151" y="930" width="1" height="3"/>
<rect x="1215" y="930" width="1" height="3"/>
<rect x="1279" y="930" width="1" height="3"/>
<rect x="1343" y="930" width="1" height="3"/>
</g>
<text x="-1.50" y="942.00" font-size="10" fill="#000" stroke="#000" stroke-width="0.22" textLength="52.06" lengthAdjust="spacingAndGlyphs" xml:space="preserve" >11 Dec 2018</text>
<text x="62.50" y="942.00" font-size="10" fill="#000" stroke="#000" stroke-width="0.22" textLength="52.06" lengthAdjust="spacingAndGlyphs" xml:space="preserve" >21 Dec 2018</text>
<text x="126.50" y="942.00" font-size="10" fill="#000" stroke="#000" stroke-width="0.22" textLength="45.43" lengthAdjust="spacingAndGlyphs" xml:space="preserve" >7 Jan 2019</text>
<text x="190.50" y="942.00" font-size="10" fill="#000" stroke="#000" stroke-width="0.22" textLength="50.53" lengthAdjust="spacingAndGlyphs" xml:space="preserve" >17 Jan 2019</text>
<text x="254.50" y="942.00" font-size="10" fill="#000" stroke="#000" stroke-width="0.22" textLength="50.53" lengthAdjust="spacingAndGlyphs" xml:space="preserve" >29 Jan 2019</text>
<text x="318.50" y="942.00" font-size="10" fill="#000" stroke="#000" stroke-width="0.22" textLength="51.55" lengthAdjust="spacingAndGlyphs" xml:space="preserve" >13 Feb 2019</text>
<text x="382.50" y="942.00" font-size="10" fill="#000" stroke="#000" stroke-width="0.22" textLength="51.55" lengthAdjust="spacingAndGlyphs" xml:space="preserve" >25 Feb 2019</text>
<text x="446.50" y="942.00" font-size="10" fill="#000" stroke="#000" stroke-width="0.22" textLength="46.44" lengthAdjust="spacingAndGlyphs" xml:space="preserve" >7 Mar 2019</text>
<text x="510.50" y="942.00" font-size="10" fill="#000" stroke="#000" stroke-width="0.22" textLength="51.54" lengthAdjust="spacingAndGlyphs" xml:space="preserve" >19 Mar 2019</text>
<text x="574.50" y="942.00" font-size="10" fill="#000" stroke="#000" stroke-width="0.22" textLength="51.54" lengthAdjust="spacingAndGlyphs" xml:space="preserve" >29 Mar 2019</text>
<text x="638.50" y="942.00" font-size="10" fill="#000" stroke="#000" stroke-width="0.22" textLength="50.02" lengthAdjust="spacingAndGlyphs" xml:space="preserve" >11 Apr 2019</text>
<text x="702.50" y="942.00" font-size="10" fill="#000" stroke="#000" stroke-width="0.22" textLength="50.02" lengthAdjust="spacingAndGlyphs" xml:space="preserve" >25 Apr 2019</text>
<text x="766.50" y="942.00" font-size="10" fill="#000" stroke="#000" stroke-width="0.22" textLength="47.97" lengthAdjust="spacingAndGlyphs" xml:space="preserve" >8 May 2019</text>
<text x="830.50" y="942.00" font-size="10" fill="#000" stroke="#000" stroke-width="0.22" textLength="53.08" lengthAdjust="spacingAndGlyphs" xml:space="preserve" >21 May 2019</text>
<text x="894.50" y="942.00" font-size="10" fill="#000" stroke="#000" stroke-width="0.22" textLength="53.08" lengthAdjust="spacingAndGlyphs" xml:space="preserve" >31 May 2019</text>
<text x="958.50" y="942.00" font-size="10" fill="#000" stroke="#000" stroke-width="0.22" textLength="50.53" lengthAdjust="spacingAndGlyphs" xml:space="preserve" >13 Jun 2019</text>
<text x="1022.50" y="942.00" font-size="10" fill="#000" stroke="#000" stroke-width="0.22" textLength="50.53" lengthAdjust="spacingAndGlyphs" xml:space="preserve" >25 Jun 2019</text>
<text x="1086.50" y="942.00" font-size="10" fill="#000" stroke="#000" stroke-width="0.22" textLength="42.36" lengthAdjust="spacingAndGlyphs" xml:space="preserve" >8 Jul 2019</text>
<text x="1150.50" y="942.00" font-size="10" fill="#000" stroke="#000" stroke-width="0.22" textLength="47.47" lengthAdjust="spacingAndGlyphs" xml:space="preserve" >18 Jul 2019</text>
<text x="1214.50" y="942.00" font-size="10" fill="#000" stroke="#000" stroke-width="0.22" textLength="47.47" lengthAdjust="spacingAndGlyphs" xml:space="preserve" >30 Jul 2019</text>
<text x="1278.50" y="942.00" font-size="10" fill="#000" stroke="#000" stroke-width="0.22" textLength="46.96" lengthAdjust="spacingAndGlyphs" xml:space="preserve" >9 Aug 2019</text>
<text x="1342.50" y="942.00" font-size="10" fill="#000" stroke="#000" stroke-width="0.22" textLength="52.07" lengthAdjust="spacingAndGlyphs" xml:space="preserve" >21 Aug 2019</text>
</svg>
<svg width="180" height="44" viewBox="1385 382 180 44" style="position:absolute;left:1385px;top:382px"><text x="1390.90" y="417.60" font-size="32" font-weight="700" fill="#0a7a0a" font-family="Liberation Serif, Noto Serif CJK SC, serif" textLength="162.40" lengthAdjust="spacingAndGlyphs">多空转折点</text><text x="1389.90" y="416.60" font-size="32" font-weight="700" fill="#00ff00" font-family="Liberation Serif, Noto Serif CJK SC, serif" textLength="162.40" lengthAdjust="spacingAndGlyphs">多空转折点</text></svg>
<svg width="1674" height="29" viewBox="0 0 1674 29" style="position:absolute;left:0;top:0" font-family="Liberation Sans, sans-serif">
<defs><pattern id="chk" width="2" height="2" patternUnits="userSpaceOnUse"><rect width="2" height="2" fill="#ffffff"/><rect width="1" height="1" fill="#f0f0f0"/><rect x="1" y="1" width="1" height="1" fill="#f0f0f0"/></pattern><linearGradient id="gold" x1="0" y1="0" x2="1" y2="1"><stop offset="0" stop-color="#f8dc60"/><stop offset="0.5" stop-color="#e8b820"/><stop offset="1" stop-color="#c08810"/></linearGradient><linearGradient id="gplus" x1="0" y1="0" x2="0" y2="1"><stop offset="0" stop-color="#58f468"/><stop offset="1" stop-color="#14bc24"/></linearGradient><radialGradient id="lens" cx="0.4" cy="0.35" r="0.7"><stop offset="0" stop-color="#f4fbff"/><stop offset="1" stop-color="#b8dcf4"/></radialGradient><linearGradient id="clk" x1="0" y1="0" x2="0" y2="1"><stop offset="0" stop-color="#3c9cf0"/><stop offset="1" stop-color="#0848b0"/></linearGradient><linearGradient id="cld" x1="0" y1="0" x2="0" y2="1"><stop offset="0" stop-color="#ffffff"/><stop offset="0.55" stop-color="#eef3fa"/><stop offset="1" stop-color="#b4c8e6"/></linearGradient><linearGradient id="bub" x1="0" y1="0" x2="0" y2="1"><stop offset="0" stop-color="#ffffff"/><stop offset="0.5" stop-color="#f4f4fa"/><stop offset="1" stop-color="#cfcfe0"/></linearGradient></defs>
<g shape-rendering="crispEdges">
<rect x="0" y="0" width="1674" height="25" fill="#f0f0f0"/>
<rect x="0" y="25" width="1673" height="1" fill="#a6a6a6"/>
<rect x="0" y="26" width="1673" height="1" fill="#6a6a6a"/>
<rect x="0" y="27" width="1674" height="2" fill="#ffffff"/>
<rect x="1673" y="25" width="1" height="4" fill="#e3e3e3"/>
</g>
<g><path d="M-0.5,6.3H7.2L9.8,8.9V18.4H-0.5z" fill="#ffffff" stroke="#8a8a8a" stroke-width="1"/><path d="M7.2,6.3V8.9H9.8" fill="#e4e4e4" stroke="#8a8a8a" stroke-width="0.8"/><path d="M0,8.5H5.5M0,11H6.5M0,13.5H4" stroke="#8c8c8c" stroke-width="1"/><path d="M6.2,11.5h3.6v3.6h3.6v3.6h-3.6v3.6h-3.6v-3.6h-3.6v-3.6h3.6z" fill="url(#gplus)" stroke="#12981c" stroke-width="1"/><path d="M7,12.4h2v3.6h-2z" fill="#a8ffb0" opacity="0.55"/></g>
<text x="16.40" y="16.20" font-size="13" fill="#000" font-family="Liberation Sans, Noto Sans CJK SC, sans-serif" textLength="37.10" lengthAdjust="spacingAndGlyphs">新订单</text>
<path d="M71,6.2L81,14.2L72.6,20.8L65,14.8Z" fill="url(#gold)" stroke="#a87818" stroke-width="0.9" stroke-linejoin="round"/><path d="M72.6,20.8L81,14.2L81.2,15.8L72.8,22.3Z" fill="#b88420" stroke="#96680c" stroke-width="0.5"/><path d="M65,14.8L72.6,20.8L72.8,22.3L65,16.2Z" fill="#c89424" stroke="#96680c" stroke-width="0.5"/><path d="M70.8,7.6C69,9.5 67.6,12 66.6,14.6" stroke="#fff4b0" stroke-width="1.1" fill="none" opacity="0.85"/>
<path d="M95.5,6.5L103,5L106,6.5V14H95.5Z" fill="#38a0f0" stroke="#1878d0" stroke-width="0.8"/><path d="M98.5,7V14" stroke="#bfe2ff" stroke-width="1.4"/><rect x="100" y="8.5" width="4.5" height="1.2" fill="#d8eeff"/><rect x="100" y="11" width="4.5" height="1.2" fill="#d8eeff"/><path d="M96,20.5a3,3 0 0 1 0.4,-5.9a3.6,3.6 0 0 1 6.6,-1.2a3.2,3.2 0 0 1 4.6,2.2a2.6,2.6 0 0 1 -0.6,4.9z" fill="url(#cld)" stroke="#5c8ccc" stroke-width="0.9"/>
<g fill="none" stroke-linecap="round"><path d="M129,5.4A7.6,7.6 0 0 0 129,20.6" stroke="#a4c0ec" stroke-width="1.2"/><path d="M129,5.4A7.6,7.6 0 0 1 135.6,9.2" stroke="#b4cce8" stroke-width="1.1"/><path d="M129,7.9A5.1,5.1 0 0 0 129,18.1" stroke="#5c8ce0" stroke-width="1.4"/><path d="M129,7.9A5.1,5.1 0 0 1 133.6,10.8" stroke="#8cb0e4" stroke-width="1.2"/><path d="M129,10.3A2.7,2.7 0 0 0 127.4,15.2" stroke="#3c6cd4" stroke-width="1.2"/><path d="M129.6,20.6A7.6,7.6 0 0 0 136.4,11" stroke="#5cac5c" stroke-width="1.7"/><path d="M130.2,18A5.1,5.1 0 0 0 134,12" stroke="#8cc48c" stroke-width="1.3"/></g><circle cx="129" cy="13" r="1.6" fill="#2858c8"/><path d="M129.4,13.6V21" stroke="#22a422" stroke-width="1.5"/>
<path d="M149,12.5L163,12.5L157.5,21H154.5Z" fill="#f4d040" stroke="#c8a020" stroke-width="0.8" stroke-linejoin="round"/><ellipse cx="156" cy="10.2" rx="7.8" ry="3" fill="#58a8e0" stroke="#3080c0" stroke-width="0.8"/><path d="M151.8,9.5a4.2,4.4 0 0 1 8.4,0z" fill="#78c0f0" stroke="#3888c8" stroke-width="0.8"/><circle cx="160.3" cy="16.6" r="4.3" fill="#d82818"/><circle cx="160.3" cy="16.6" r="4.3" fill="none" stroke="#b01808" stroke-width="0.6"/><rect x="158.6" y="14.9" width="3.4" height="3.4" fill="#fff"/>
<text x="169.20" y="16.20" font-size="13" fill="#000" font-family="Liberation Sans, Noto Sans CJK SC, sans-serif" textLength="47.95" lengthAdjust="spacingAndGlyphs">自动交易</text>
<g shape-rendering="crispEdges"><rect x="224" y="0" width="1" height="25" fill="#a0a0a0"/><rect x="225" y="0" width="1" height="25" fill="#ffffff"/></g>
<g shape-rendering="crispEdges" fill="#a8a8a8"><rect x="228" y="3" width="3" height="1"/><rect x="228" y="5" width="3" height="1"/><rect x="228" y="7" width="3" height="1"/><rect x="228" y="9" width="3" height="1"/><rect x="228" y="11" width="3" height="1"/><rect x="228" y="13" width="3" height="1"/><rect x="228" y="15" width="3" height="1"/><rect x="228" y="17" width="3" height="1"/><rect x="228" y="19" width="3" height="1"/><rect x="228" y="21" width="3" height="1"/></g>
<g stroke="#555" stroke-width="1.2" fill="none"><path d="M242.5,8V21M240,18.5H252.5"/></g><path d="M242.5,6.6 l-1.8,2.5 h3.6 z M254.2,18.5 l-2.5,-1.8 v3.6 z" fill="#555"/><path d="M248.5,8.5V16.5M248.5,9.5H251M246,15.5H248.5" stroke="#18981c" stroke-width="1.3" fill="none"/>
<g shape-rendering="crispEdges"><rect x="262" y="1" width="25" height="22" fill="url(#chk)"/><rect x="262" y="1" width="25" height="1" fill="#a0a0a0"/><rect x="262" y="1" width="1" height="22" fill="#a0a0a0"/><rect x="262" y="22" width="25" height="1" fill="#ffffff"/><rect x="286" y="2" width="1" height="21" fill="#ffffff"/></g>
<g stroke="#555" stroke-width="1.2" fill="none"><path d="M270.5,8V21M268,18.5H280.5"/></g><path d="M270.5,6.6 l-1.8,2.5 h3.6 z M282.2,18.5 l-2.5,-1.8 v3.6 z" fill="#555"/><path d="M276.5,5.2V16.8" stroke="#109010" stroke-width="1.3"/><rect x="274.3" y="7.2" width="4.6" height="7.4" fill="#28d030" stroke="#109010" stroke-width="0.9"/>
<g stroke="#555" stroke-width="1.2" fill="none"><path d="M298.5,8V21M296,18.5H308.5"/></g><path d="M298.5,6.6 l-1.8,2.5 h3.6 z M310.2,18.5 l-2.5,-1.8 v3.6 z" fill="#555"/><path d="M297,15.5C299.5,14.6 301.2,10.4 303.3,10.4S306.4,13.4 309,14.2" stroke="#20982a" stroke-width="1.2" fill="none"/>
<g shape-rendering="crispEdges"><rect x="319" y="2" width="1" height="21" fill="#a0a0a0"/><rect x="320" y="2" width="1" height="21" fill="#fbfbfb"/></g>
<path d="M337.90000000000003,15.0L342.90000000000003,19.7" stroke="#a88018" stroke-width="3.2" stroke-linecap="round"/><path d="M338.1,15.2L342.7,19.5" stroke="#f0cc40" stroke-width="1.8" stroke-linecap="round"/><circle cx="334.3" cy="11.1" r="5.6" fill="url(#lens)" stroke="#3878c8" stroke-width="1.3"/><path d="M331.3,11.1H337.3" stroke="#3a7aa8" stroke-width="1.7"/><path d="M334.3,8.1V14.1" stroke="#3a7aa8" stroke-width="1.7"/>
<path d="M365.90000000000003,15.0L370.90000000000003,19.7" stroke="#a88018" stroke-width="3.2" stroke-linecap="round"/><path d="M366.1,15.2L370.7,19.5" stroke="#f0cc40" stroke-width="1.8" stroke-linecap="round"/><circle cx="362.3" cy="11.1" r="5.6" fill="url(#lens)" stroke="#3878c8" stroke-width="1.3"/><path d="M359.3,11.1H365.3" stroke="#3a7aa8" stroke-width="1.7"/>
<g shape-rendering="crispEdges"><rect x="384" y="5" width="8" height="8" fill="#5ab42a"/><rect x="384" y="5" width="8" height="2.4" fill="#3c9c12"/><rect x="385" y="8" width="6" height="4" fill="#f4f8ff"/><rect x="385.6" y="9.2" width="4.6" height="1" fill="#5ab42a" opacity="0.55"/><rect x="385" y="5.8" width="1" height="1" fill="#e8f0ff"/><rect x="392" y="5" width="8" height="8" fill="#3468e0"/><rect x="392" y="5" width="8" height="2.4" fill="#1c48c8"/><rect x="393" y="8" width="6" height="4" fill="#f4f8ff"/><rect x="393.6" y="9.2" width="4.6" height="1" fill="#3468e0" opacity="0.55"/><rect x="393" y="5.8" width="1" height="1" fill="#e8f0ff"/><rect x="384" y="13" width="8" height="8" fill="#3468e0"/><rect x="384" y="13" width="8" height="2.4" fill="#1c48c8"/><rect x="385" y="16" width="6" height="4" fill="#f4f8ff"/><rect x="385.6" y="17.2" width="4.6" height="1" fill="#3468e0" opacity="0.55"/><rect x="385" y="13.8" width="1" height="1" fill="#e8f0ff"/><rect x="392" y="13" width="8" height="8" fill="#5ab42a"/><rect x="392" y="13" width="8" height="2.4" fill="#3c9c12"/><rect x="393" y="16" width="6" height="4" fill="#f4f8ff"/><rect x="393.6" y="17.2" width="4.6" height="1" fill="#5ab42a" opacity="0.55"/><rect x="393" y="13.8" width="1" height="1" fill="#e8f0ff"/></g>
<g shape-rendering="crispEdges"><rect x="409" y="2" width="1" height="21" fill="#a0a0a0"/><rect x="410" y="2" width="1" height="21" fill="#fbfbfb"/></g>
<g shape-rendering="crispEdges"><rect x="414" y="1" width="25" height="22" fill="url(#chk)"/><rect x="414" y="1" width="25" height="1" fill="#a0a0a0"/><rect x="414" y="1" width="1" height="22" fill="#a0a0a0"/><rect x="414" y="22" width="25" height="1" fill="#ffffff"/><rect x="438" y="2" width="1" height="21" fill="#ffffff"/></g>
<g stroke="#555" stroke-width="1.2" fill="none"><path d="M422.5,8V21M420,18.5H432.5"/></g><path d="M422.5,6.6 l-1.8,2.5 h3.6 z M434.2,18.5 l-2.5,-1.8 v3.6 z" fill="#555"/><path d="M427.2,9.3V15.7L431,12.5Z" fill="#58e060" stroke="#109818" stroke-width="0.9"/>
<g shape-rendering="crispEdges"><rect x="442" y="1" width="25" height="22" fill="url(#chk)"/><rect x="442" y="1" width="25" height="1" fill="#a0a0a0"/><rect x="442" y="1" width="1" height="22" fill="#a0a0a0"/><rect x="442" y="22" width="25" height="1" fill="#ffffff"/><rect x="466" y="2" width="1" height="21" fill="#ffffff"/></g>
<g stroke="#555" stroke-width="1.2" fill="none"><path d="M450.5,8V21M448,18.5H460.5"/></g><path d="M450.5,6.6 l-1.8,2.5 h3.6 z M462.2,18.5 l-2.5,-1.8 v3.6 z" fill="#555"/><path d="M456.6,7V17" stroke="#1868a8" stroke-width="1.2"/><path d="M458,12.5H462.3M458,12.5l2.4,-2.2M458,12.5l2.4,2.2" stroke="#e04808" stroke-width="1.2" fill="none"/>
<g shape-rendering="crispEdges"><rect x="471" y="2" width="1" height="21" fill="#a0a0a0"/><rect x="472" y="2" width="1" height="21" fill="#fbfbfb"/></g>
<path d="M481.5,5.8H489L492.2,9V18.3H481.5z" fill="#fcfcfc" stroke="#9a9a9a" stroke-width="1"/><path d="M489,5.8V9H492.2" fill="#e4e4e4" stroke="#9a9a9a" stroke-width="0.8"/><path d="M484.5,9.2c-1.2,0 -1.2,1.4 -1.2,2.4s0,1.4 -0.9,1.4c0.9,0 0.9,0.6 0.9,1.5s0,2.2 1.2,2.2" stroke="#888" stroke-width="0.9" fill="none"/><path d="M489.7,11.5h3.6v3.6h3.6v3.6h-3.6v3.6h-3.6v-3.6h-3.6v-3.6h3.6z" fill="url(#gplus)" stroke="#12981c" stroke-width="1"/>
<polygon points="502.5,12 508.5,12 505.5,15.2" fill="#000"/>
<circle cx="526.8" cy="13" r="7.8" fill="url(#clk)"/><circle cx="526.8" cy="13" r="7.8" fill="none" stroke="#0a3c98" stroke-width="0.6"/><circle cx="526.8" cy="12.8" r="5.4" fill="#f6f6f6" stroke="#c8d8ec" stroke-width="0.6"/><path d="M526.8,9.2V13H530" stroke="#303030" stroke-width="1.2" fill="none"/><g fill="#a0a0a0"><circle cx="526.8" cy="8.6" r="0.5"/><circle cx="526.8" cy="17" r="0.5"/><circle cx="522.6" cy="12.8" r="0.5"/><circle cx="531" cy="12.8" r="0.5"/></g>
<polygon points="541.8,12 547.8,12 544.8,15.2" fill="#000"/>
<g><rect x="558.5" y="6.5" width="15.5" height="13" fill="#fff" stroke="#3070c8" stroke-width="1"/><rect x="559" y="7" width="14.5" height="2.2" fill="#5898e8"/><path d="M559,14.3H573.5" stroke="#5088d8" stroke-width="1"/><path d="M560.3,12.4h2l1.5,-1.2h1.8l1.4,1h2l1.5,-1.4h1.6" stroke="#a02808" stroke-width="1.3" fill="none"/><path d="M561,17.5h1.6l1.3,-1h1.6l1.3,0.9l2.2,-2l2.2,2.2" stroke="#189828" stroke-width="1.3" fill="none"/></g>
<polygon points="580.5,12 586.5,12 583.5,15.2" fill="#000"/>
<g shape-rendering="crispEdges"><rect x="592" y="0" width="1" height="25" fill="#a0a0a0"/><rect x="593" y="0" width="1" height="25" fill="#ffffff"/></g>
<g shape-rendering="crispEdges" fill="#a8a8a8"><rect x="596" y="3" width="3" height="1"/><rect x="596" y="5" width="3" height="1"/><rect x="596" y="7" width="3" height="1"/><rect x="596" y="9" width="3" height="1"/><rect x="596" y="11" width="3" height="1"/><rect x="596" y="13" width="3" height="1"/><rect x="596" y="15" width="3" height="1"/><rect x="596" y="17" width="3" height="1"/><rect x="596" y="19" width="3" height="1"/><rect x="596" y="21" width="3" height="1"/></g>
<g shape-rendering="crispEdges"><rect x="602" y="1" width="25" height="22" fill="url(#chk)"/><rect x="602" y="1" width="25" height="1" fill="#a0a0a0"/><rect x="602" y="1" width="1" height="22" fill="#a0a0a0"/><rect x="602" y="22" width="25" height="1" fill="#ffffff"/><rect x="626" y="2" width="1" height="21" fill="#ffffff"/></g>
<path d="M610.2,6.2V18.2L613,15.6L615.3,20.3L617.3,19.3L615,14.8H618.6Z" fill="#505050"/>
<g shape-rendering="crispEdges" fill="#505050"><rect x="642" y="6" width="1" height="6"/><rect x="642" y="15" width="1" height="6"/><rect x="635" y="13" width="6" height="1"/><rect x="644" y="13" width="6" height="1"/><rect x="642" y="13" width="1" height="1" fill="#909090"/></g>
<g shape-rendering="crispEdges"><rect x="659" y="2" width="1" height="21" fill="#a0a0a0"/><rect x="660" y="2" width="1" height="21" fill="#fbfbfb"/></g>
<g shape-rendering="crispEdges" fill="#505050"><rect x="676" y="7" width="1" height="13"/><rect x="699" y="13" width="12" height="1"/></g>
<path d="M727,19.8L739.2,7.6" stroke="#505050" stroke-width="1.1"/>
<g stroke="#505050" stroke-width="1.1" fill="none"><path d="M752.6,14.6L763.2,5.6M755.4,20.2L767.2,10.2"/><path d="M753.6,16.4l1.6,-3.6l1,4.6l2.2,-7l1,4.8l2.2,-7l1,4.8l1.8,-5.4" stroke-width="1.15"/></g>
<text x="763.60" y="21.60" font-size="6.5" fill="#404040" font-weight="700" textLength="4.34" lengthAdjust="spacingAndGlyphs" xml:space="preserve" >E</text>
<g stroke="#505050" stroke-width="1" stroke-dasharray="1,1" shape-rendering="crispEdges"><path d="M782,6.5H795.5M782,9.5H795.5M782,13.5H795.5M782,17.5H791"/></g>
<text x="791.80" y="21.60" font-size="6.5" fill="#404040" font-weight="700" textLength="3.97" lengthAdjust="spacingAndGlyphs" xml:space="preserve" >F</text>
<text x="812.60" y="17.90" font-size="12.4" fill="#5a5a5a" font-weight="700" textLength="7.90" lengthAdjust="spacingAndGlyphs" xml:space="preserve" >A</text>
<g shape-rendering="crispEdges"><rect x="838.5" y="7.5" width="12" height="12" fill="none" stroke="#505050" stroke-width="1" stroke-dasharray="1,1"/><rect x="838" y="6" width="2" height="2" fill="#505050"/></g>
<text x="840.90" y="17.60" font-size="10.6" fill="#555" font-weight="700" textLength="7.40" lengthAdjust="spacingAndGlyphs" xml:space="preserve" >T</text>
<path d="M869.3,6.5L873.5,10.5H871.1V12H867.5V10.5H865.1Z" fill="#505050"/><path d="M876.6,20.1L880.8,16.1H878.4V14.6H874.8V16.1H872.4Z" fill="#505050"/><path d="M868.2,13.8l2.2,2.4l4.2,-5" stroke="#505050" stroke-width="1.2" fill="none"/>
<polygon points="886.5,12 892.5,12 889.5,15.2" fill="#000"/>
<g shape-rendering="crispEdges"><rect x="898" y="0" width="1" height="25" fill="#a0a0a0"/><rect x="899" y="0" width="1" height="25" fill="#ffffff"/></g>
<g shape-rendering="crispEdges" fill="#a8a8a8"><rect x="902" y="3" width="3" height="1"/><rect x="902" y="5" width="3" height="1"/><rect x="902" y="7" width="3" height="1"/><rect x="902" y="9" width="3" height="1"/><rect x="902" y="11" width="3" height="1"/><rect x="902" y="13" width="3" height="1"/><rect x="902" y="15" width="3" height="1"/><rect x="902" y="17" width="3" height="1"/><rect x="902" y="19" width="3" height="1"/><rect x="902" y="21" width="3" height="1"/></g>
<g shape-rendering="crispEdges"><rect x="1076" y="1" width="25" height="22" fill="url(#chk)"/><rect x="1076" y="1" width="25" height="1" fill="#a0a0a0"/><rect x="1076" y="1" width="1" height="22" fill="#a0a0a0"/><rect x="1076" y="22" width="25" height="1" fill="#ffffff"/><rect x="1100" y="2" width="1" height="21" fill="#ffffff"/></g>
<text x="913.58" y="16.90" font-size="10" fill="#444" stroke="#444" stroke-width="0.22" textLength="12.85" lengthAdjust="spacingAndGlyphs" xml:space="preserve" >M1</text>
<text x="941.63" y="16.90" font-size="10" fill="#444" stroke="#444" stroke-width="0.22" textLength="12.85" lengthAdjust="spacingAndGlyphs" xml:space="preserve" >M5</text>
<text x="967.10" y="16.90" font-size="10" fill="#444" stroke="#444" stroke-width="0.22" textLength="17.99" lengthAdjust="spacingAndGlyphs" xml:space="preserve" >M15</text>
<text x="995.15" y="16.90" font-size="10" fill="#444" stroke="#444" stroke-width="0.22" textLength="17.99" lengthAdjust="spacingAndGlyphs" xml:space="preserve" >M30</text>
<text x="1026.29" y="16.90" font-size="10" fill="#444" stroke="#444" stroke-width="0.22" textLength="11.82" lengthAdjust="spacingAndGlyphs" xml:space="preserve" >H1</text>
<text x="1054.34" y="16.90" font-size="10" fill="#444" stroke="#444" stroke-width="0.22" textLength="11.82" lengthAdjust="spacingAndGlyphs" xml:space="preserve" >H4</text>
<text x="1082.39" y="16.90" font-size="10" fill="#444" stroke="#444" stroke-width="0.22" textLength="11.82" lengthAdjust="spacingAndGlyphs" xml:space="preserve" >D1</text>
<text x="1109.41" y="16.90" font-size="10" fill="#444" stroke="#444" stroke-width="0.22" textLength="13.88" lengthAdjust="spacingAndGlyphs" xml:space="preserve" >W1</text>
<text x="1137.21" y="16.90" font-size="10" fill="#444" stroke="#444" stroke-width="0.22" textLength="14.39" lengthAdjust="spacingAndGlyphs" xml:space="preserve" >MN</text>
<g shape-rendering="crispEdges"><rect x="1159" y="0" width="1" height="25" fill="#a0a0a0"/><rect x="1160" y="0" width="1" height="25" fill="#ffffff"/></g>
<path d="M1626.6,13.2L1621.8,17.9" stroke="#2858d0" stroke-width="2.4" stroke-linecap="round"/><circle cx="1629.6" cy="10.3" r="3.7" fill="#eef1fa" stroke="#2858d0" stroke-width="1.3"/>
<path d="M1662.2,4.9c3.6,0 6.4,2.2 6.4,4.9c0,1.8 -1.2,3.4 -3,4.2l0.6,2.4l-2.6,-1.8c-0.4,0.1 -0.9,0.1 -1.4,0.1c-3.6,0 -6.4,-2.2 -6.4,-4.9s2.8,-4.9 6.4,-4.9z" fill="url(#bub)" stroke="#858585" stroke-width="1.05"/><path d="M1653.3,10.2c2.6,0 4.7,1.7 4.7,3.8s-2.1,3.8 -4.7,3.8c-0.5,0 -0.9,0 -1.3,-0.1l-2.2,1.8l0.4,-2.5c-1,-0.7 -1.6,-1.8 -1.6,-3c0,-2.1 2.1,-3.8 4.7,-3.8z" fill="url(#bub)" stroke="#858585" stroke-width="1.05"/>
</svg>
<svg width="230" height="90" viewBox="0 28 230 90" style="position:absolute;left:0;top:28px" font-family="Liberation Sans, sans-serif">
<defs><linearGradient id="pg" gradientUnits="userSpaceOnUse" x1="0" y1="49" x2="0" y2="113"><stop offset="0" stop-color="#5c5cf6"/><stop offset="0.3" stop-color="#3c3ce4"/><stop offset="0.62" stop-color="#1c1cd4"/><stop offset="1" stop-color="#0000a4"/></linearGradient></defs>
<polygon points="2,40.5 9.2,40.5 5.6,36" fill="#000"/>
<text x="14.60" y="41.00" font-size="10" fill="#000" stroke="#000" stroke-width="0.22" textLength="197.00" lengthAdjust="spacingAndGlyphs" xml:space="preserve" >HK50-,Daily  25346.0 25386.0 25305.5 25382.5</text>
<g shape-rendering="crispEdges">
<path d="M2,49H54V73H111V113H2Z" fill="url(#pg)"/>
<path d="M169,49H221V113H113V73H169Z" fill="url(#pg)"/>
<rect x="6" y="72" width="44" height="1" fill="#7c7cf8"/><rect x="173" y="72" width="44" height="1" fill="#7c7cf8"/>
<rect x="56" y="49" width="111" height="22" fill="#b8b8b8"/><rect x="57" y="50" width="109" height="20" fill="#ffffff"/>
<rect x="57" y="50" width="20" height="20" fill="#e2e2e2"/><rect x="146" y="50" width="20" height="20" fill="#e2e2e2"/>
<rect x="77" y="50" width="1" height="20" fill="#b8b8b8"/><rect x="145" y="50" width="1" height="20" fill="#b8b8b8"/>
</g>
<polygon points="64,58 69.6,58 66.8,61" fill="#000"/><polygon points="152.6,61.2 158.2,61.2 155.4,58.2" fill="#000"/>
<text x="118.60" y="63.60" font-size="11.5" fill="#000" textLength="22.90" lengthAdjust="spacingAndGlyphs" xml:space="preserve" >1.00</text>
<text x="14.40" y="64.80" font-size="12" fill="#fff" textLength="25.30" lengthAdjust="spacingAndGlyphs" xml:space="preserve" >SELL</text>
<text x="182.50" y="64.80" font-size="12" fill="#fff" textLength="23.20" lengthAdjust="spacingAndGlyphs" xml:space="preserve" >BUY</text>
<text x="18.40" y="103.60" font-size="11.6" fill="#fff" font-weight="700" textLength="33.60" lengthAdjust="spacingAndGlyphs" xml:space="preserve" >25381</text>
<text x="128.50" y="103.60" font-size="11.6" fill="#fff" font-weight="700" textLength="34.50" lengthAdjust="spacingAndGlyphs" xml:space="preserve" >25394</text>
<rect x="58" y="100.4" width="3.4" height="3.4" fill="#fff"/><rect x="168.5" y="100.4" width="3.4" height="3.4" fill="#fff"/>
<text x="62.20" y="104.20" font-size="32.6" fill="#fff" textLength="19.00" lengthAdjust="spacingAndGlyphs" xml:space="preserve" >0</text>
<text x="173.20" y="104.20" font-size="32.6" fill="#fff" textLength="19.00" lengthAdjust="spacingAndGlyphs" xml:space="preserve" >0</text>
</svg>
</body></html>
